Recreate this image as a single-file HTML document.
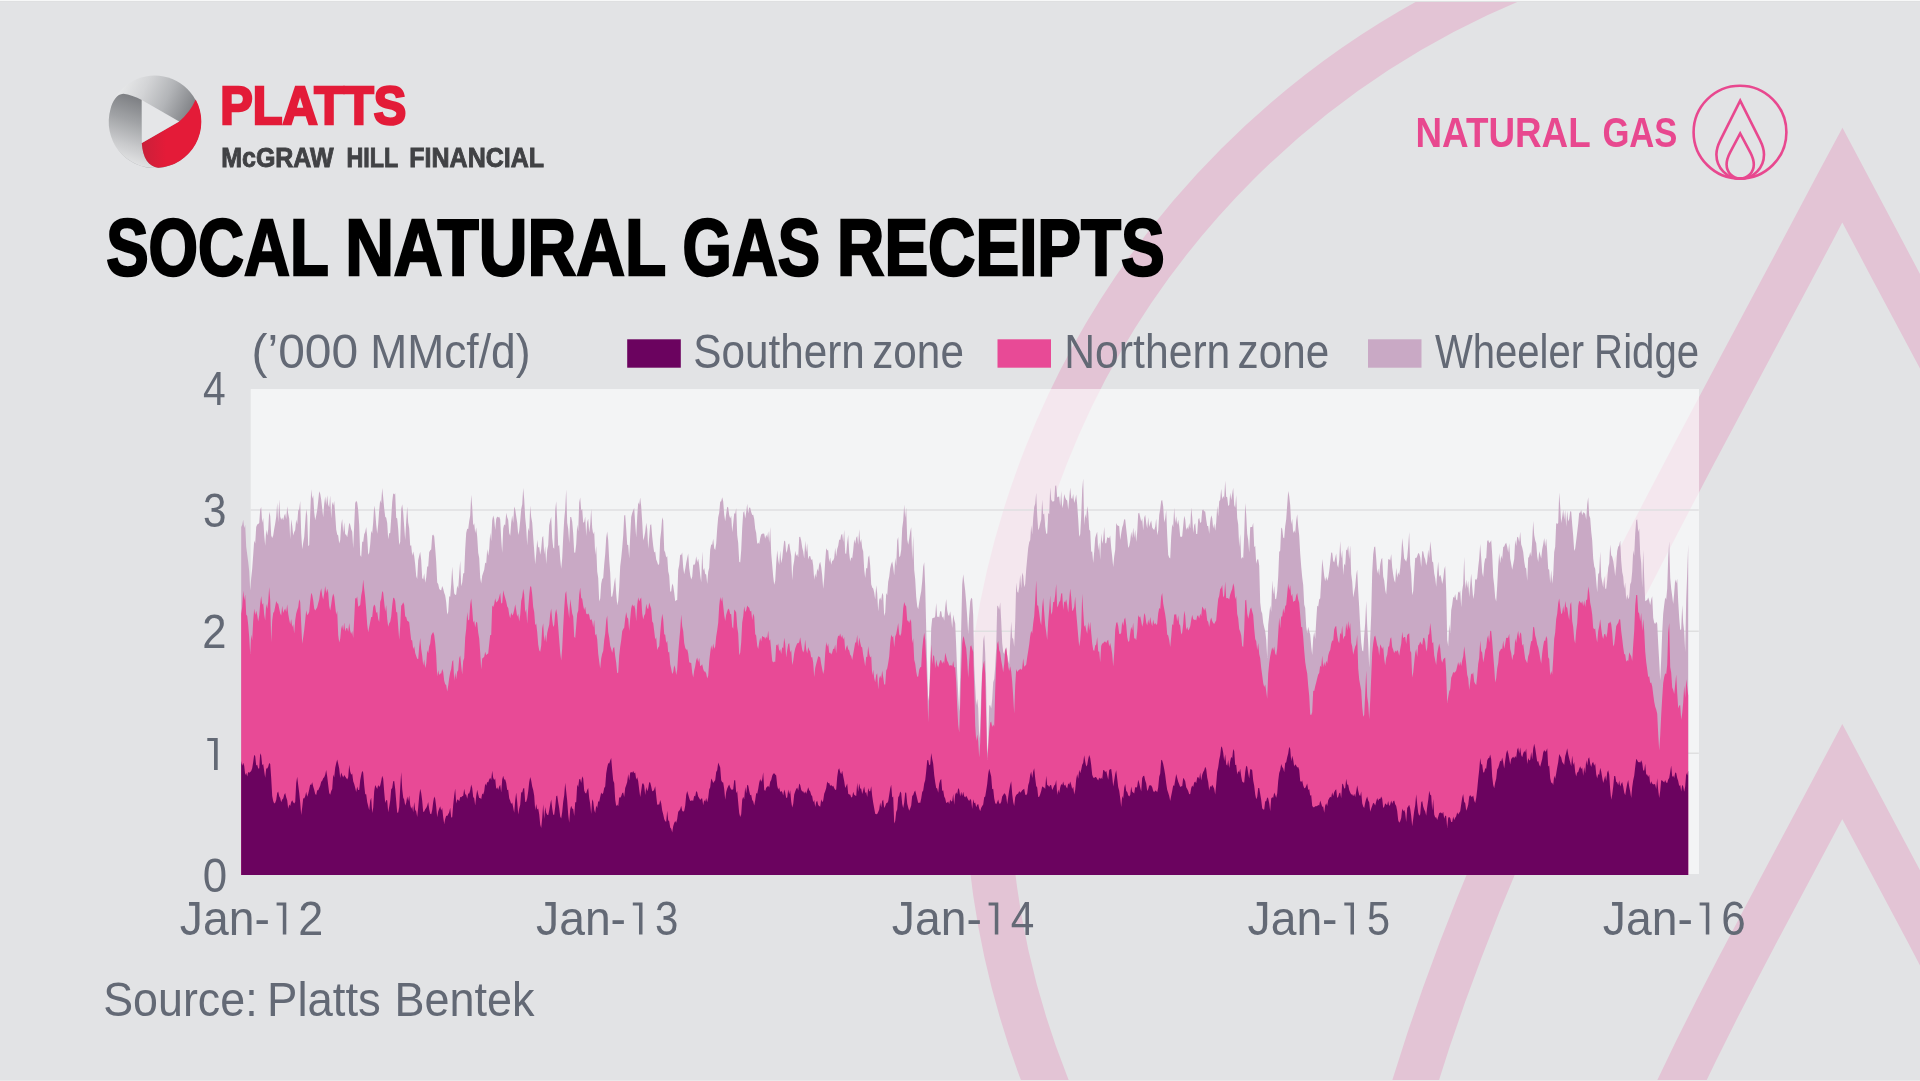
<!DOCTYPE html>
<html><head><meta charset="utf-8"><title>SoCal natural gas receipts</title>
<style>
html,body{margin:0;padding:0;background:#e2e3e5;}
body{width:1920px;height:1081px;overflow:hidden;font-family:"Liberation Sans",sans-serif;}
svg{display:block;position:absolute;left:0;top:0;will-change:transform;}
text{font-family:"Liberation Sans",sans-serif;}
.lt{fill:#646a75;stroke:#fff;stroke-width:1.1px;mix-blend-mode:darken;}
</style></head>
<body>
<svg width="1920" height="1081" viewBox="0 0 1920 1081">
<defs>
<linearGradient id="gTop" gradientUnits="userSpaceOnUse" x1="122" y1="84" x2="190" y2="116">
<stop offset="0" stop-color="#e7e8e9"/><stop offset="0.3" stop-color="#d3d4d6"/><stop offset="0.62" stop-color="#b3b5b8"/><stop offset="1" stop-color="#7f8185"/>
</linearGradient>
<linearGradient id="gLeft" gradientUnits="userSpaceOnUse" x1="141" y1="98" x2="119" y2="164">
<stop offset="0" stop-color="#7c7e82"/><stop offset="0.35" stop-color="#a0a2a5"/><stop offset="0.7" stop-color="#c9cacc"/><stop offset="1" stop-color="#e8e9ea"/>
</linearGradient>
<linearGradient id="gRed" gradientUnits="userSpaceOnUse" x1="141" y1="0" x2="166" y2="0">
<stop offset="0" stop-color="#c9203a"/><stop offset="1" stop-color="#e41b38"/>
</linearGradient>
</defs>
<rect x="0" y="0" width="1920" height="1081" fill="#e2e3e5"/>

<!-- big background flame -->
<g fill="none" stroke="#e3c4d5" stroke-width="44.5" stroke-linejoin="miter" stroke-miterlimit="10">
<circle cx="1842.5" cy="769.6" r="856"/>
<path d="M1401.0,1130.0 L1414.1,1085.0 L1428.5,1040.0 L1444.0,995.0 L1460.6,950.0 L1478.2,905.0 L1496.8,860.0 L1516.2,815.0 L1536.4,770.0 L1557.3,725.0 L1578.8,680.0 L1600.9,635.0 L1623.5,590.0 L1646.5,545.0 L1669.9,500.0 L1693.5,455.0 L1717.4,410.0 L1741.3,365.0 L1765.3,320.0 L1789.3,275.0 L1813.2,230.0 L1836.9,185.0 L1842.3,175.0 L1866.2,220.0 L1890.0,265.0 L1914.0,310.0 L1938.0,355.0 L1961.9,400.0"/>
<path d="M1658.8,1130.0 L1677.2,1090.0 L1696.5,1050.0 L1716.5,1010.0 L1737.1,970.0 L1758.1,930.0 L1779.3,890.0 L1800.6,850.0 L1821.9,810.0 L1842.3,771.5 L1863.2,811.0 L1884.5,851.0 L1905.8,891.0 L1927.1,931.0 L1948.0,971.0 L1968.6,1011.0"/>
</g>

<!-- plot box -->
<rect x="250.7" y="389" width="1448.3" height="485" fill="#ffffff" fill-opacity="0.6"/>
<g stroke="#dfdfe0" stroke-width="1.6">
<line x1="250.6" x2="1698.8" y1="510" y2="510"/>
<line x1="250.6" x2="1698.8" y1="631.2" y2="631.2"/>
<line x1="250.6" x2="1698.8" y1="753.3" y2="753.3"/>
</g>

<!-- data -->
<path fill="#c9a9c5" d="M241.2,875.0L241.2,527.0L242.2,524.7L243.2,519.7L244.2,528.0L245.2,525.1L246.2,546.7L247.2,554.5L248.2,561.9L249.2,571.0L250.2,590.6L251.2,578.1L252.2,568.8L253.2,555.0L254.2,540.6L255.2,543.6L256.2,526.9L257.2,524.4L258.2,524.0L259.2,523.0L260.2,509.8L261.2,507.0L262.2,522.8L263.2,517.9L264.2,535.0L265.2,545.7L266.2,529.5L267.2,535.4L268.2,529.6L269.2,511.7L270.2,515.9L271.2,535.5L272.2,537.9L273.2,535.4L274.2,529.0L275.2,523.6L276.2,516.8L277.2,502.8L278.2,522.3L279.2,499.5L280.2,516.4L281.2,519.8L282.2,517.6L283.2,520.3L284.2,515.8L285.2,513.5L286.2,519.3L287.2,506.3L288.2,513.7L289.2,518.5L290.2,539.2L291.2,519.2L292.2,525.7L293.2,535.5L294.2,532.0L295.2,529.9L296.2,519.4L297.2,524.3L298.2,510.5L299.2,509.3L300.2,500.9L301.2,533.2L302.2,549.2L303.2,542.8L304.2,537.0L305.2,523.0L306.2,508.9L307.2,515.5L308.2,546.3L309.2,544.9L310.2,514.0L311.2,489.2L312.2,498.7L313.2,495.2L314.2,512.2L315.2,520.2L316.2,515.5L317.2,510.1L318.2,500.9L319.2,491.2L320.2,493.8L321.2,499.8L322.2,508.5L323.2,517.2L324.2,504.0L325.2,496.5L326.2,505.1L327.2,495.3L328.2,504.7L329.2,507.2L330.2,495.5L331.2,518.6L332.2,501.8L333.2,505.6L334.2,501.0L335.2,514.5L336.2,529.4L337.2,534.5L338.2,535.5L339.2,543.4L340.2,539.9L341.2,524.4L342.2,518.9L343.2,533.0L344.2,522.2L345.2,534.3L346.2,534.8L347.2,537.3L348.2,530.8L349.2,522.8L350.2,524.8L351.2,529.2L352.2,531.7L353.2,548.2L354.2,525.1L355.2,503.0L356.2,500.7L357.2,502.5L358.2,510.2L359.2,525.0L360.2,555.0L361.2,557.0L362.2,541.4L363.2,541.9L364.2,534.2L365.2,532.1L366.2,527.0L367.2,536.4L368.2,554.8L369.2,552.7L370.2,544.3L371.2,530.7L372.2,533.5L373.2,522.0L374.2,505.5L375.2,511.5L376.2,524.6L377.2,533.8L378.2,524.0L379.2,509.9L380.2,500.1L381.2,503.3L382.2,488.1L383.2,497.4L384.2,508.4L385.2,516.7L386.2,517.7L387.2,523.0L388.2,539.3L389.2,533.3L390.2,533.1L391.2,518.0L392.2,501.9L393.2,493.3L394.2,494.5L395.2,493.2L396.2,517.8L397.2,518.4L398.2,529.3L399.2,545.1L400.2,541.7L401.2,509.2L402.2,504.3L403.2,512.6L404.2,526.4L405.2,539.9L406.2,521.2L407.2,506.4L408.2,522.5L409.2,528.6L410.2,545.8L411.2,545.2L412.2,555.7L413.2,551.5L414.2,556.1L415.2,564.5L416.2,575.9L417.2,578.9L418.2,560.2L419.2,555.7L420.2,551.8L421.2,560.2L422.2,578.1L423.2,579.5L424.2,573.3L425.2,582.8L426.2,577.5L427.2,566.4L428.2,566.4L429.2,552.3L430.2,550.3L431.2,549.6L432.2,535.4L433.2,534.4L434.2,536.6L435.2,548.4L436.2,561.8L437.2,582.6L438.2,583.9L439.2,588.7L440.2,589.9L441.2,590.2L442.2,586.0L443.2,588.8L444.2,592.8L445.2,595.4L446.2,602.3L447.2,614.5L448.2,612.0L449.2,596.2L450.2,596.7L451.2,584.2L452.2,566.4L453.2,581.4L454.2,593.3L455.2,595.0L456.2,594.5L457.2,585.6L458.2,588.4L459.2,574.2L460.2,560.8L461.2,586.3L462.2,582.4L463.2,573.5L464.2,573.0L465.2,549.1L466.2,532.9L467.2,528.8L468.2,529.1L469.2,521.3L470.2,515.6L471.2,494.7L472.2,506.8L473.2,525.6L474.2,523.3L475.2,533.1L476.2,527.6L477.2,536.8L478.2,552.8L479.2,557.9L480.2,577.7L481.2,583.4L482.2,575.8L483.2,572.7L484.2,569.7L485.2,562.4L486.2,563.4L487.2,549.1L488.2,555.8L489.2,549.1L490.2,532.8L491.2,541.3L492.2,520.5L493.2,515.4L494.2,519.0L495.2,530.1L496.2,518.9L497.2,516.6L498.2,517.6L499.2,516.7L500.2,519.5L501.2,538.9L502.2,552.7L503.2,528.6L504.2,524.3L505.2,525.5L506.2,512.7L507.2,517.2L508.2,520.1L509.2,533.1L510.2,535.7L511.2,522.6L512.2,515.6L513.2,522.9L514.2,506.6L515.2,509.6L516.2,516.3L517.2,522.8L518.2,534.9L519.2,531.0L520.2,520.7L521.2,509.0L522.2,504.6L523.2,487.9L524.2,499.2L525.2,517.8L526.2,527.4L527.2,545.4L528.2,527.7L529.2,531.6L530.2,505.6L531.2,517.1L532.2,522.6L533.2,537.2L534.2,550.5L535.2,564.2L536.2,554.1L537.2,539.8L538.2,547.6L539.2,547.0L540.2,554.8L541.2,549.1L542.2,537.6L543.2,536.1L544.2,554.3L545.2,546.3L546.2,564.1L547.2,549.9L548.2,545.1L549.2,525.2L550.2,520.5L551.2,516.8L552.2,537.9L553.2,547.6L554.2,548.8L555.2,510.3L556.2,501.2L557.2,520.5L558.2,546.2L559.2,544.8L560.2,559.0L561.2,568.8L562.2,558.6L563.2,537.3L564.2,519.8L565.2,509.1L566.2,489.3L567.2,522.7L568.2,529.0L569.2,542.9L570.2,516.9L571.2,516.9L572.2,521.7L573.2,533.4L574.2,552.5L575.2,552.7L576.2,544.2L577.2,524.6L578.2,531.6L579.2,502.6L580.2,497.5L581.2,510.5L582.2,508.7L583.2,522.7L584.2,522.1L585.2,516.6L586.2,536.0L587.2,522.0L588.2,518.8L589.2,532.4L590.2,524.5L591.2,508.7L592.2,527.7L593.2,534.3L594.2,531.6L595.2,555.0L596.2,546.1L597.2,571.4L598.2,578.1L599.2,601.4L600.2,598.6L601.2,583.8L602.2,579.1L603.2,577.9L604.2,564.6L605.2,554.1L606.2,537.8L607.2,531.6L608.2,540.2L609.2,560.1L610.2,572.8L611.2,596.7L612.2,596.6L613.2,590.9L614.2,583.0L615.2,577.3L616.2,593.5L617.2,605.1L618.2,601.0L619.2,587.6L620.2,566.2L621.2,558.3L622.2,547.9L623.2,535.5L624.2,515.6L625.2,515.0L626.2,528.7L627.2,544.8L628.2,545.0L629.2,558.5L630.2,535.9L631.2,517.1L632.2,513.0L633.2,510.2L634.2,508.0L635.2,524.0L636.2,537.4L637.2,517.3L638.2,502.2L639.2,504.7L640.2,497.5L641.2,506.5L642.2,521.4L643.2,540.5L644.2,537.3L645.2,532.0L646.2,522.7L647.2,529.0L648.2,548.8L649.2,537.3L650.2,525.1L651.2,524.2L652.2,536.5L653.2,545.7L654.2,552.4L655.2,551.6L656.2,559.4L657.2,561.9L658.2,565.2L659.2,563.4L660.2,539.3L661.2,530.7L662.2,517.3L663.2,520.4L664.2,550.3L665.2,552.6L666.2,557.4L667.2,556.1L668.2,571.3L669.2,575.6L670.2,591.8L671.2,591.2L672.2,583.4L673.2,585.7L674.2,592.6L675.2,601.3L676.2,600.3L677.2,600.0L678.2,570.0L679.2,565.1L680.2,554.8L681.2,555.0L682.2,552.6L683.2,567.2L684.2,574.2L685.2,569.1L686.2,563.1L687.2,558.0L688.2,553.5L689.2,568.1L690.2,574.9L691.2,579.5L692.2,576.7L693.2,564.5L694.2,564.9L695.2,563.2L696.2,556.2L697.2,562.2L698.2,558.8L699.2,564.9L700.2,575.1L701.2,582.2L702.2,551.2L703.2,570.5L704.2,567.9L705.2,574.0L706.2,574.6L707.2,583.9L708.2,572.0L709.2,567.8L710.2,549.8L711.2,544.4L712.2,544.7L713.2,538.7L714.2,548.3L715.2,550.0L716.2,543.6L717.2,528.5L718.2,517.2L719.2,512.8L720.2,501.7L721.2,501.3L722.2,497.2L723.2,501.5L724.2,514.6L725.2,521.3L726.2,513.7L727.2,506.7L728.2,507.6L729.2,515.0L730.2,518.4L731.2,515.8L732.2,532.2L733.2,523.4L734.2,513.2L735.2,513.8L736.2,508.1L737.2,535.1L738.2,543.1L739.2,561.8L740.2,562.4L741.2,550.3L742.2,528.1L743.2,512.7L744.2,511.0L745.2,518.6L746.2,512.2L747.2,503.7L748.2,513.5L749.2,507.6L750.2,507.8L751.2,511.9L752.2,515.0L753.2,514.7L754.2,519.0L755.2,528.7L756.2,532.9L757.2,543.9L758.2,542.6L759.2,544.1L760.2,538.2L761.2,534.4L762.2,533.8L763.2,533.6L764.2,533.7L765.2,538.7L766.2,534.8L767.2,537.4L768.2,531.5L769.2,542.7L770.2,526.9L771.2,553.3L772.2,564.9L773.2,576.4L774.2,584.8L775.2,580.8L776.2,563.2L777.2,550.3L778.2,559.5L779.2,565.1L780.2,550.5L781.2,563.2L782.2,558.4L783.2,549.1L784.2,540.5L785.2,541.4L786.2,553.1L787.2,550.2L788.2,544.4L789.2,543.3L790.2,549.9L791.2,555.9L792.2,580.2L793.2,566.2L794.2,560.4L795.2,550.8L796.2,556.0L797.2,553.9L798.2,557.2L799.2,537.0L800.2,536.8L801.2,540.8L802.2,547.4L803.2,551.6L804.2,558.4L805.2,540.8L806.2,552.2L807.2,543.2L808.2,559.5L809.2,556.2L810.2,556.1L811.2,560.1L812.2,559.0L813.2,565.5L814.2,579.8L815.2,573.6L816.2,577.4L817.2,568.4L818.2,571.6L819.2,564.2L820.2,561.7L821.2,566.9L822.2,575.6L823.2,588.8L824.2,578.1L825.2,561.2L826.2,548.2L827.2,550.2L828.2,550.2L829.2,561.9L830.2,557.4L831.2,564.8L832.2,560.8L833.2,560.4L834.2,558.1L835.2,547.7L836.2,556.6L837.2,548.9L838.2,545.7L839.2,539.5L840.2,540.1L841.2,534.8L842.2,533.9L843.2,542.0L844.2,529.7L845.2,553.5L846.2,553.7L847.2,542.4L848.2,534.7L849.2,553.0L850.2,561.4L851.2,557.3L852.2,558.5L853.2,550.4L854.2,539.3L855.2,543.7L856.2,537.8L857.2,536.1L858.2,544.7L859.2,529.3L860.2,542.7L861.2,539.0L862.2,548.0L863.2,551.5L864.2,569.6L865.2,577.9L866.2,568.1L867.2,568.4L868.2,557.5L869.2,555.2L870.2,566.1L871.2,584.3L872.2,587.5L873.2,588.5L874.2,592.4L875.2,599.6L876.2,585.3L877.2,593.5L878.2,611.5L879.2,599.7L880.2,597.5L881.2,600.4L882.2,592.8L883.2,595.2L884.2,616.1L885.2,612.5L886.2,593.0L887.2,595.3L888.2,581.7L889.2,576.7L890.2,568.2L891.2,564.1L892.2,561.6L893.2,567.0L894.2,575.4L895.2,557.7L896.2,565.8L897.2,540.6L898.2,537.0L899.2,557.3L900.2,555.9L901.2,549.7L902.2,528.2L903.2,520.7L904.2,504.4L905.2,517.7L906.2,507.6L907.2,539.2L908.2,544.7L909.2,539.1L910.2,531.7L911.2,527.2L912.2,560.0L913.2,535.8L914.2,569.9L915.2,579.3L916.2,596.8L917.2,606.3L918.2,609.2L919.2,602.5L920.2,596.4L921.2,591.2L922.2,581.2L923.2,566.8L924.2,562.3L925.2,585.9L926.2,629.1L927.2,667.0L928.2,701.1L929.2,693.9L930.2,665.7L931.2,628.3L932.2,618.6L933.2,617.8L934.2,618.1L935.2,616.3L936.2,603.1L937.2,617.1L938.2,616.6L939.2,617.6L940.2,611.2L941.2,611.2L942.2,617.7L943.2,616.3L944.2,620.7L945.2,607.2L946.2,598.9L947.2,610.5L948.2,615.3L949.2,615.8L950.2,611.2L951.2,618.2L952.2,628.0L953.2,614.5L954.2,619.7L955.2,623.4L956.2,646.4L957.2,673.3L958.2,694.8L959.2,711.6L960.2,676.0L961.2,627.8L962.2,584.5L963.2,574.2L964.2,582.6L965.2,590.8L966.2,602.6L967.2,616.7L968.2,634.0L969.2,615.3L970.2,601.7L971.2,597.7L972.2,599.1L973.2,615.5L974.2,665.6L975.2,685.8L976.2,705.2L977.2,698.7L978.2,708.3L979.2,738.7L980.2,728.9L981.2,692.8L982.2,668.0L983.2,640.9L984.2,634.9L985.2,653.3L986.2,688.1L987.2,753.7L988.2,742.5L989.2,705.4L990.2,705.3L991.2,708.4L992.2,699.1L993.2,682.3L994.2,678.9L995.2,666.4L996.2,647.7L997.2,605.4L998.2,606.6L999.2,609.7L1000.2,602.2L1001.2,620.8L1002.2,643.1L1003.2,652.0L1004.2,654.1L1005.2,649.3L1006.2,647.0L1007.2,654.9L1008.2,660.8L1009.2,664.1L1010.2,640.9L1011.2,621.5L1012.2,637.8L1013.2,638.9L1014.2,646.7L1015.2,621.7L1016.2,582.5L1017.2,591.5L1018.2,593.1L1019.2,587.1L1020.2,574.8L1021.2,588.5L1022.2,572.4L1023.2,575.8L1024.2,587.2L1025.2,583.9L1026.2,569.3L1027.2,558.4L1028.2,548.1L1029.2,542.3L1030.2,540.0L1031.2,525.3L1032.2,534.6L1033.2,518.3L1034.2,507.1L1035.2,503.7L1036.2,492.7L1037.2,515.5L1038.2,530.3L1039.2,528.1L1040.2,523.3L1041.2,519.6L1042.2,499.4L1043.2,514.5L1044.2,513.4L1045.2,526.3L1046.2,533.7L1047.2,533.4L1048.2,513.0L1049.2,514.3L1050.2,487.2L1051.2,499.6L1052.2,501.4L1053.2,501.4L1054.2,500.9L1055.2,485.8L1056.2,485.4L1057.2,497.4L1058.2,496.8L1059.2,496.6L1060.2,505.9L1061.2,491.0L1062.2,508.3L1063.2,504.1L1064.2,494.1L1065.2,497.4L1066.2,499.8L1067.2,500.6L1068.2,509.7L1069.2,499.0L1070.2,487.4L1071.2,498.1L1072.2,499.1L1073.2,494.1L1074.2,503.0L1075.2,499.4L1076.2,494.4L1077.2,504.9L1078.2,518.9L1079.2,536.7L1080.2,534.2L1081.2,516.6L1082.2,489.8L1083.2,478.4L1084.2,524.9L1085.2,513.9L1086.2,518.4L1087.2,506.0L1088.2,512.5L1089.2,529.6L1090.2,531.0L1091.2,551.7L1092.2,551.6L1093.2,563.1L1094.2,551.8L1095.2,538.1L1096.2,534.5L1097.2,531.7L1098.2,550.5L1099.2,542.4L1100.2,559.7L1101.2,533.2L1102.2,543.7L1103.2,539.5L1104.2,526.7L1105.2,543.3L1106.2,543.3L1107.2,537.3L1108.2,537.8L1109.2,538.2L1110.2,535.4L1111.2,547.9L1112.2,556.6L1113.2,567.1L1114.2,556.4L1115.2,549.7L1116.2,523.0L1117.2,525.2L1118.2,525.8L1119.2,526.3L1120.2,539.9L1121.2,533.5L1122.2,527.5L1123.2,524.6L1124.2,519.2L1125.2,519.4L1126.2,528.8L1127.2,537.8L1128.2,548.1L1129.2,546.1L1130.2,540.9L1131.2,531.7L1132.2,538.1L1133.2,527.5L1134.2,537.8L1135.2,529.7L1136.2,541.9L1137.2,532.3L1138.2,513.5L1139.2,512.7L1140.2,517.1L1141.2,521.6L1142.2,518.6L1143.2,530.5L1144.2,517.8L1145.2,514.7L1146.2,523.1L1147.2,528.5L1148.2,517.2L1149.2,527.0L1150.2,523.3L1151.2,520.6L1152.2,527.6L1153.2,528.9L1154.2,529.9L1155.2,526.7L1156.2,518.5L1157.2,535.3L1158.2,530.6L1159.2,515.1L1160.2,508.9L1161.2,500.7L1162.2,500.0L1163.2,506.4L1164.2,522.5L1165.2,518.3L1166.2,510.0L1167.2,535.3L1168.2,554.8L1169.2,557.4L1170.2,558.4L1171.2,536.4L1172.2,523.9L1173.2,527.2L1174.2,507.5L1175.2,523.0L1176.2,516.2L1177.2,524.7L1178.2,519.7L1179.2,526.1L1180.2,536.6L1181.2,537.0L1182.2,536.2L1183.2,525.7L1184.2,515.7L1185.2,519.5L1186.2,529.9L1187.2,527.1L1188.2,529.5L1189.2,522.9L1190.2,528.4L1191.2,507.5L1192.2,516.7L1193.2,532.9L1194.2,524.9L1195.2,523.1L1196.2,533.9L1197.2,534.1L1198.2,519.6L1199.2,517.7L1200.2,522.9L1201.2,522.1L1202.2,510.3L1203.2,509.4L1204.2,511.3L1205.2,511.5L1206.2,519.5L1207.2,526.1L1208.2,525.9L1209.2,533.7L1210.2,521.4L1211.2,515.3L1212.2,518.2L1213.2,528.6L1214.2,523.4L1215.2,530.8L1216.2,522.5L1217.2,505.9L1218.2,516.6L1219.2,501.4L1220.2,499.7L1221.2,488.8L1222.2,499.3L1223.2,495.9L1224.2,497.9L1225.2,480.8L1226.2,496.7L1227.2,497.2L1228.2,506.1L1229.2,504.9L1230.2,492.8L1231.2,499.9L1232.2,494.1L1233.2,487.8L1234.2,504.9L1235.2,507.7L1236.2,495.0L1237.2,517.9L1238.2,524.5L1239.2,546.9L1240.2,534.0L1241.2,559.1L1242.2,557.0L1243.2,558.3L1244.2,534.6L1245.2,503.1L1246.2,514.3L1247.2,533.8L1248.2,540.0L1249.2,552.6L1250.2,527.3L1251.2,527.0L1252.2,527.0L1253.2,522.7L1254.2,547.2L1255.2,545.7L1256.2,563.8L1257.2,559.4L1258.2,559.2L1259.2,565.5L1260.2,602.6L1261.2,611.0L1262.2,613.6L1263.2,622.7L1264.2,627.2L1265.2,631.3L1266.2,639.8L1267.2,658.0L1268.2,624.7L1269.2,615.2L1270.2,605.4L1271.2,612.0L1272.2,580.2L1273.2,594.4L1274.2,585.9L1275.2,599.3L1276.2,598.7L1277.2,591.1L1278.2,576.5L1279.2,552.1L1280.2,550.5L1281.2,527.5L1282.2,528.7L1283.2,537.4L1284.2,538.2L1285.2,526.2L1286.2,519.2L1287.2,504.9L1288.2,490.9L1289.2,495.9L1290.2,505.3L1291.2,524.3L1292.2,518.7L1293.2,533.3L1294.2,530.2L1295.2,533.0L1296.2,520.6L1297.2,514.3L1298.2,526.7L1299.2,535.5L1300.2,553.6L1301.2,566.5L1302.2,577.3L1303.2,584.9L1304.2,604.5L1305.2,607.9L1306.2,626.5L1307.2,633.2L1308.2,626.8L1309.2,631.2L1310.2,634.5L1311.2,646.2L1312.2,655.0L1313.2,637.9L1314.2,631.9L1315.2,638.9L1316.2,621.1L1317.2,605.8L1318.2,606.4L1319.2,599.5L1320.2,598.2L1321.2,580.4L1322.2,558.9L1323.2,566.7L1324.2,575.8L1325.2,581.2L1326.2,576.6L1327.2,580.7L1328.2,577.8L1329.2,571.2L1330.2,562.6L1331.2,552.5L1332.2,552.8L1333.2,561.1L1334.2,562.6L1335.2,557.9L1336.2,553.4L1337.2,564.8L1338.2,567.7L1339.2,559.9L1340.2,541.0L1341.2,558.6L1342.2,550.2L1343.2,574.9L1344.2,563.6L1345.2,565.4L1346.2,549.6L1347.2,550.4L1348.2,545.4L1349.2,559.3L1350.2,545.2L1351.2,573.9L1352.2,581.7L1353.2,597.6L1354.2,592.1L1355.2,586.6L1356.2,575.0L1357.2,569.6L1358.2,591.0L1359.2,607.3L1360.2,626.7L1361.2,642.5L1362.2,650.6L1363.2,651.5L1364.2,635.8L1365.2,623.3L1366.2,600.9L1367.2,625.6L1368.2,643.6L1369.2,667.8L1370.2,638.0L1371.2,614.9L1372.2,572.5L1373.2,554.3L1374.2,547.0L1375.2,546.5L1376.2,558.6L1377.2,573.5L1378.2,568.6L1379.2,575.7L1380.2,564.5L1381.2,559.4L1382.2,557.7L1383.2,576.5L1384.2,580.4L1385.2,589.9L1386.2,594.5L1387.2,579.6L1388.2,559.2L1389.2,559.3L1390.2,560.4L1391.2,554.0L1392.2,567.5L1393.2,574.7L1394.2,580.2L1395.2,582.7L1396.2,567.8L1397.2,577.7L1398.2,572.2L1399.2,575.3L1400.2,568.1L1401.2,556.1L1402.2,538.1L1403.2,547.2L1404.2,558.6L1405.2,560.0L1406.2,561.7L1407.2,557.4L1408.2,546.0L1409.2,532.1L1410.2,564.6L1411.2,573.8L1412.2,595.2L1413.2,591.0L1414.2,574.3L1415.2,557.7L1416.2,558.3L1417.2,556.3L1418.2,552.9L1419.2,553.7L1420.2,557.3L1421.2,567.0L1422.2,551.3L1423.2,551.6L1424.2,556.7L1425.2,559.6L1426.2,565.4L1427.2,561.3L1428.2,549.6L1429.2,558.0L1430.2,541.2L1431.2,549.6L1432.2,561.4L1433.2,562.5L1434.2,573.2L1435.2,578.3L1436.2,586.7L1437.2,572.2L1438.2,561.6L1439.2,577.1L1440.2,574.7L1441.2,577.9L1442.2,584.0L1443.2,578.9L1444.2,569.5L1445.2,566.1L1446.2,591.6L1447.2,640.1L1448.2,646.0L1449.2,624.3L1450.2,633.6L1451.2,610.2L1452.2,604.8L1453.2,596.7L1454.2,598.0L1455.2,594.0L1456.2,599.6L1457.2,600.6L1458.2,591.6L1459.2,593.1L1460.2,590.4L1461.2,607.2L1462.2,590.7L1463.2,584.1L1464.2,556.8L1465.2,589.3L1466.2,579.5L1467.2,588.1L1468.2,580.8L1469.2,597.1L1470.2,585.0L1471.2,573.5L1472.2,587.1L1473.2,599.1L1474.2,593.5L1475.2,579.0L1476.2,580.0L1477.2,577.9L1478.2,567.2L1479.2,558.5L1480.2,543.9L1481.2,557.8L1482.2,572.6L1483.2,576.9L1484.2,563.8L1485.2,558.3L1486.2,558.5L1487.2,541.1L1488.2,540.1L1489.2,542.9L1490.2,542.0L1491.2,540.2L1492.2,554.8L1493.2,577.1L1494.2,585.6L1495.2,597.7L1496.2,601.4L1497.2,585.9L1498.2,566.5L1499.2,552.9L1500.2,563.3L1501.2,555.4L1502.2,558.9L1503.2,547.0L1504.2,546.6L1505.2,544.0L1506.2,542.7L1507.2,546.8L1508.2,552.5L1509.2,543.2L1510.2,558.4L1511.2,564.1L1512.2,569.8L1513.2,564.2L1514.2,559.0L1515.2,540.1L1516.2,545.9L1517.2,536.8L1518.2,537.4L1519.2,541.9L1520.2,531.7L1521.2,544.5L1522.2,547.5L1523.2,552.0L1524.2,561.3L1525.2,567.4L1526.2,568.6L1527.2,580.8L1528.2,558.1L1529.2,556.5L1530.2,551.9L1531.2,556.5L1532.2,541.1L1533.2,520.9L1534.2,535.0L1535.2,540.6L1536.2,543.2L1537.2,556.3L1538.2,562.1L1539.2,551.3L1540.2,554.8L1541.2,558.5L1542.2,549.2L1543.2,544.2L1544.2,538.1L1545.2,546.5L1546.2,538.6L1547.2,551.4L1548.2,568.9L1549.2,569.8L1550.2,583.2L1551.2,569.9L1552.2,583.8L1553.2,575.0L1554.2,551.9L1555.2,546.7L1556.2,523.1L1557.2,524.0L1558.2,522.9L1559.2,492.6L1560.2,506.4L1561.2,522.9L1562.2,517.0L1563.2,509.6L1564.2,519.7L1565.2,510.0L1566.2,526.8L1567.2,510.7L1568.2,521.5L1569.2,519.1L1570.2,511.2L1571.2,511.6L1572.2,524.4L1573.2,536.0L1574.2,551.0L1575.2,548.5L1576.2,540.4L1577.2,532.2L1578.2,523.7L1579.2,512.8L1580.2,512.7L1581.2,509.9L1582.2,515.2L1583.2,512.2L1584.2,512.8L1585.2,514.1L1586.2,519.7L1587.2,504.2L1588.2,497.2L1589.2,515.6L1590.2,518.3L1591.2,531.5L1592.2,540.4L1593.2,558.6L1594.2,566.2L1595.2,569.1L1596.2,581.1L1597.2,592.3L1598.2,574.3L1599.2,572.6L1600.2,551.8L1601.2,576.4L1602.2,582.2L1603.2,587.8L1604.2,576.0L1605.2,588.8L1606.2,588.7L1607.2,579.8L1608.2,567.5L1609.2,563.2L1610.2,544.4L1611.2,555.3L1612.2,556.8L1613.2,561.1L1614.2,567.7L1615.2,576.3L1616.2,566.0L1617.2,551.0L1618.2,546.7L1619.2,545.6L1620.2,540.4L1621.2,561.0L1622.2,572.1L1623.2,576.6L1624.2,588.8L1625.2,582.6L1626.2,600.0L1627.2,594.3L1628.2,599.3L1629.2,596.9L1630.2,584.3L1631.2,582.1L1632.2,571.5L1633.2,550.2L1634.2,555.7L1635.2,533.5L1636.2,520.2L1637.2,519.2L1638.2,532.0L1639.2,528.5L1640.2,553.8L1641.2,563.1L1642.2,587.7L1643.2,549.8L1644.2,578.0L1645.2,601.2L1646.2,600.5L1647.2,600.1L1648.2,597.4L1649.2,600.6L1650.2,604.9L1651.2,599.4L1652.2,596.3L1653.2,617.8L1654.2,622.8L1655.2,624.1L1656.2,621.7L1657.2,623.8L1658.2,643.7L1659.2,661.2L1660.2,680.6L1661.2,659.1L1662.2,632.2L1663.2,613.7L1664.2,605.0L1665.2,597.4L1666.2,599.6L1667.2,588.4L1668.2,557.5L1669.2,541.3L1670.2,577.9L1671.2,588.7L1672.2,596.1L1673.2,604.0L1674.2,592.9L1675.2,579.2L1676.2,583.2L1677.2,578.7L1678.2,601.6L1679.2,618.1L1680.2,630.0L1681.2,629.3L1682.2,604.9L1683.2,623.0L1684.2,631.8L1685.2,652.1L1686.2,599.8L1687.2,573.2L1688.2,544.5L1688.2,875.0 Z"/>
<path fill="#e84a96" d="M241.2,875.0L241.2,613.8L242.2,606.7L243.2,590.8L244.2,600.2L245.2,594.5L246.2,614.5L247.2,616.0L248.2,624.8L249.2,637.2L250.2,654.0L251.2,634.6L252.2,640.2L253.2,620.8L254.2,608.6L255.2,615.1L256.2,610.7L257.2,615.0L258.2,621.5L259.2,615.5L260.2,603.4L261.2,596.1L262.2,604.7L263.2,602.9L264.2,614.5L265.2,620.6L266.2,603.9L267.2,608.7L268.2,601.8L269.2,587.0L270.2,600.0L271.2,642.2L272.2,620.5L273.2,613.0L274.2,611.6L275.2,606.6L276.2,601.1L277.2,603.2L278.2,603.7L279.2,608.6L280.2,613.3L281.2,615.5L282.2,605.8L283.2,613.1L284.2,610.2L285.2,608.4L286.2,612.1L287.2,604.2L288.2,613.8L289.2,619.6L290.2,624.2L291.2,619.1L292.2,627.0L293.2,624.3L294.2,633.4L295.2,620.2L296.2,613.4L297.2,609.9L298.2,607.2L299.2,599.2L300.2,602.1L301.2,623.5L302.2,643.7L303.2,637.2L304.2,630.0L305.2,620.4L306.2,610.3L307.2,615.2L308.2,613.9L309.2,611.8L310.2,601.4L311.2,592.7L312.2,595.0L313.2,600.2L314.2,608.4L315.2,610.4L316.2,609.1L317.2,607.3L318.2,603.2L319.2,599.5L320.2,592.5L321.2,588.2L322.2,595.4L323.2,599.6L324.2,593.6L325.2,586.1L326.2,593.3L327.2,588.8L328.2,592.5L329.2,606.1L330.2,610.6L331.2,604.5L332.2,597.4L333.2,593.5L334.2,596.6L335.2,605.9L336.2,614.8L337.2,611.0L338.2,634.9L339.2,642.5L340.2,638.8L341.2,628.8L342.2,625.1L343.2,630.3L344.2,622.4L345.2,631.4L346.2,628.2L347.2,628.0L348.2,631.7L349.2,623.0L350.2,630.7L351.2,634.1L352.2,631.0L353.2,638.1L354.2,619.1L355.2,598.1L356.2,598.7L357.2,596.6L358.2,606.7L359.2,605.9L360.2,604.9L361.2,595.4L362.2,590.5L363.2,579.4L364.2,589.1L365.2,597.7L366.2,610.0L367.2,624.4L368.2,632.3L369.2,627.0L370.2,622.1L371.2,617.1L372.2,616.9L373.2,607.2L374.2,604.6L375.2,606.1L376.2,613.1L377.2,611.7L378.2,619.0L379.2,622.0L380.2,601.7L381.2,599.0L382.2,591.0L383.2,592.8L384.2,602.5L385.2,611.5L386.2,605.1L387.2,619.1L388.2,626.7L389.2,623.3L390.2,621.8L391.2,616.6L392.2,605.3L393.2,597.7L394.2,598.1L395.2,601.1L396.2,612.0L397.2,612.4L398.2,626.4L399.2,639.7L400.2,625.9L401.2,605.7L402.2,604.6L403.2,602.2L404.2,604.7L405.2,616.4L406.2,617.1L407.2,620.7L408.2,621.3L409.2,622.3L410.2,631.6L411.2,639.9L412.2,640.5L413.2,649.0L414.2,646.3L415.2,653.1L416.2,655.9L417.2,658.7L418.2,658.9L419.2,646.8L420.2,638.0L421.2,649.1L422.2,655.7L423.2,665.4L424.2,659.6L425.2,668.0L426.2,664.1L427.2,650.2L428.2,653.2L429.2,646.6L430.2,643.5L431.2,635.4L432.2,633.4L433.2,632.1L434.2,635.1L435.2,643.3L436.2,655.1L437.2,676.6L438.2,670.2L439.2,674.9L440.2,673.6L441.2,673.4L442.2,669.1L443.2,671.9L444.2,680.7L445.2,684.2L446.2,685.0L447.2,691.6L448.2,685.8L449.2,677.9L450.2,672.5L451.2,669.0L452.2,661.4L453.2,659.9L454.2,680.7L455.2,672.6L456.2,679.0L457.2,671.7L458.2,670.3L459.2,658.3L460.2,655.6L461.2,665.7L462.2,674.5L463.2,661.0L464.2,658.0L465.2,637.5L466.2,628.8L467.2,612.1L468.2,620.6L469.2,619.5L470.2,604.5L471.2,598.5L472.2,608.8L473.2,622.7L474.2,620.5L475.2,627.6L476.2,621.7L477.2,622.7L478.2,632.5L479.2,638.5L480.2,652.4L481.2,669.6L482.2,658.6L483.2,657.7L484.2,656.7L485.2,651.7L486.2,655.2L487.2,654.0L488.2,653.4L489.2,644.0L490.2,635.1L491.2,635.0L492.2,605.6L493.2,607.0L494.2,604.3L495.2,598.2L496.2,602.5L497.2,601.4L498.2,600.2L499.2,597.1L500.2,592.8L501.2,603.6L502.2,603.0L503.2,590.3L504.2,594.4L505.2,597.9L506.2,601.4L507.2,606.6L508.2,608.1L509.2,614.6L510.2,618.3L511.2,612.5L512.2,615.5L513.2,613.9L514.2,610.0L515.2,604.2L516.2,610.0L517.2,616.7L518.2,613.7L519.2,621.6L520.2,615.0L521.2,600.9L522.2,597.0L523.2,588.8L524.2,594.6L525.2,612.7L526.2,609.0L527.2,623.8L528.2,608.6L529.2,595.8L530.2,586.3L531.2,586.8L532.2,594.6L533.2,607.0L534.2,612.0L535.2,625.3L536.2,623.6L537.2,632.1L538.2,644.4L539.2,650.3L540.2,651.7L541.2,645.5L542.2,628.3L543.2,623.3L544.2,641.6L545.2,634.5L546.2,642.5L547.2,632.9L548.2,628.5L549.2,624.8L550.2,614.3L551.2,608.5L552.2,619.8L553.2,626.9L554.2,624.9L555.2,613.3L556.2,609.1L557.2,614.5L558.2,626.7L559.2,639.9L560.2,652.5L561.2,660.6L562.2,648.2L563.2,627.1L564.2,608.7L565.2,594.1L566.2,591.1L567.2,603.1L568.2,609.4L569.2,618.3L570.2,599.0L571.2,605.9L572.2,613.4L573.2,616.5L574.2,636.7L575.2,637.9L576.2,626.1L577.2,613.7L578.2,610.7L579.2,594.7L580.2,587.6L581.2,597.9L582.2,598.8L583.2,605.6L584.2,610.0L585.2,606.7L586.2,613.5L587.2,614.6L588.2,613.6L589.2,615.0L590.2,620.2L591.2,619.1L592.2,621.2L593.2,627.2L594.2,619.8L595.2,635.4L596.2,633.7L597.2,639.2L598.2,653.5L599.2,661.5L600.2,668.4L601.2,658.4L602.2,653.7L603.2,651.0L604.2,640.0L605.2,633.6L606.2,620.3L607.2,615.6L608.2,632.1L609.2,637.6L610.2,645.8L611.2,648.9L612.2,652.8L613.2,648.0L614.2,647.0L615.2,655.9L616.2,662.7L617.2,673.2L618.2,672.6L619.2,655.6L620.2,646.8L621.2,640.2L622.2,631.2L623.2,628.9L624.2,627.8L625.2,618.4L626.2,611.9L627.2,617.4L628.2,618.8L629.2,631.1L630.2,618.6L631.2,608.5L632.2,604.2L633.2,606.6L634.2,605.1L635.2,609.0L636.2,621.3L637.2,604.8L638.2,597.2L639.2,601.5L640.2,599.0L641.2,597.6L642.2,613.3L643.2,619.4L644.2,615.5L645.2,613.8L646.2,603.8L647.2,608.2L648.2,609.1L649.2,602.6L650.2,605.8L651.2,608.7L652.2,621.5L653.2,622.9L654.2,630.9L655.2,639.4L656.2,637.2L657.2,649.9L658.2,647.6L659.2,646.3L660.2,632.9L661.2,621.7L662.2,613.7L663.2,619.2L664.2,634.3L665.2,634.8L666.2,643.0L667.2,640.7L668.2,652.5L669.2,651.7L670.2,664.3L671.2,668.8L672.2,674.0L673.2,672.1L674.2,665.2L675.2,668.1L676.2,675.0L677.2,669.7L678.2,653.0L679.2,641.1L680.2,630.0L681.2,614.6L682.2,626.3L683.2,631.1L684.2,643.1L685.2,647.7L686.2,649.7L687.2,649.3L688.2,653.5L689.2,662.3L690.2,662.7L691.2,662.9L692.2,672.4L693.2,677.4L694.2,670.4L695.2,666.3L696.2,660.2L697.2,657.4L698.2,662.0L699.2,657.9L700.2,666.3L701.2,665.6L702.2,664.2L703.2,669.0L704.2,671.5L705.2,671.5L706.2,673.4L707.2,678.4L708.2,675.7L709.2,661.6L710.2,652.8L711.2,645.3L712.2,650.0L713.2,643.4L714.2,648.8L715.2,646.4L716.2,636.5L717.2,630.3L718.2,622.8L719.2,606.1L720.2,597.0L721.2,601.5L722.2,597.1L723.2,605.8L724.2,615.1L725.2,620.9L726.2,614.8L727.2,611.5L728.2,608.6L729.2,609.8L730.2,614.1L731.2,614.2L732.2,626.7L733.2,628.7L734.2,609.6L735.2,610.7L736.2,612.4L737.2,626.7L738.2,633.6L739.2,655.1L740.2,652.8L741.2,642.3L742.2,622.6L743.2,616.6L744.2,606.3L745.2,612.0L746.2,610.2L747.2,605.4L748.2,606.9L749.2,607.7L750.2,611.4L751.2,610.8L752.2,620.1L753.2,613.4L754.2,616.5L755.2,633.9L756.2,635.7L757.2,645.8L758.2,648.9L759.2,642.3L760.2,637.7L761.2,641.4L762.2,635.7L763.2,637.1L764.2,636.7L765.2,639.1L766.2,636.6L767.2,638.6L768.2,630.6L769.2,640.7L770.2,639.2L771.2,649.9L772.2,660.7L773.2,662.5L774.2,661.4L775.2,661.9L776.2,644.6L777.2,645.7L778.2,643.6L779.2,651.2L780.2,649.1L781.2,653.9L782.2,646.9L783.2,648.5L784.2,637.7L785.2,643.7L786.2,657.4L787.2,650.1L788.2,644.3L789.2,643.0L790.2,652.6L791.2,649.9L792.2,665.0L793.2,660.8L794.2,653.2L795.2,648.6L796.2,645.7L797.2,643.3L798.2,643.2L799.2,642.3L800.2,637.2L801.2,643.5L802.2,649.4L803.2,652.4L804.2,649.9L805.2,639.6L806.2,649.2L807.2,653.4L808.2,647.1L809.2,650.1L810.2,651.6L811.2,657.6L812.2,657.1L813.2,662.8L814.2,677.0L815.2,668.0L816.2,664.0L817.2,660.2L818.2,656.2L819.2,656.8L820.2,657.5L821.2,663.9L822.2,669.1L823.2,673.9L824.2,669.5L825.2,652.9L826.2,642.1L827.2,646.7L828.2,643.4L829.2,652.9L830.2,652.4L831.2,654.5L832.2,652.6L833.2,648.7L834.2,648.9L835.2,644.5L836.2,653.5L837.2,639.8L838.2,635.4L839.2,636.4L840.2,633.6L841.2,637.8L842.2,634.9L843.2,639.6L844.2,637.1L845.2,650.9L846.2,647.4L847.2,645.0L848.2,649.3L849.2,650.4L850.2,654.7L851.2,655.9L852.2,659.9L853.2,653.9L854.2,648.5L855.2,642.6L856.2,642.6L857.2,634.8L858.2,646.7L859.2,637.6L860.2,642.6L861.2,646.8L862.2,647.4L863.2,654.9L864.2,660.3L865.2,666.2L866.2,656.7L867.2,656.9L868.2,646.1L869.2,653.7L870.2,657.5L871.2,656.2L872.2,675.2L873.2,669.8L874.2,678.0L875.2,682.2L876.2,675.0L877.2,673.3L878.2,689.4L879.2,678.6L880.2,675.4L881.2,678.4L882.2,670.5L883.2,677.0L884.2,684.5L885.2,684.4L886.2,670.4L887.2,668.6L888.2,662.9L889.2,656.6L890.2,642.9L891.2,634.5L892.2,637.3L893.2,636.0L894.2,647.3L895.2,636.4L896.2,634.1L897.2,628.8L898.2,623.0L899.2,634.2L900.2,636.0L901.2,633.4L902.2,623.4L903.2,608.2L904.2,602.1L905.2,605.0L906.2,606.6L907.2,620.6L908.2,620.8L909.2,623.0L910.2,619.2L911.2,621.8L912.2,643.3L913.2,638.2L914.2,659.7L915.2,663.8L916.2,671.4L917.2,676.7L918.2,676.5L919.2,669.7L920.2,667.3L921.2,667.0L922.2,649.3L923.2,639.4L924.2,632.7L925.2,639.7L926.2,660.8L927.2,686.0L928.2,722.3L929.2,697.4L930.2,672.7L931.2,644.2L932.2,664.2L933.2,655.0L934.2,656.6L935.2,668.5L936.2,659.5L937.2,664.9L938.2,667.6L939.2,663.8L940.2,660.3L941.2,660.2L942.2,663.8L943.2,661.0L944.2,663.6L945.2,652.8L946.2,656.4L947.2,660.8L948.2,662.5L949.2,665.4L950.2,665.4L951.2,665.1L952.2,666.5L953.2,661.1L954.2,667.6L955.2,666.9L956.2,682.0L957.2,707.1L958.2,724.8L959.2,732.6L960.2,703.0L961.2,669.9L962.2,643.4L963.2,636.0L964.2,638.6L965.2,644.1L966.2,648.3L967.2,660.4L968.2,677.8L969.2,661.4L970.2,646.5L971.2,645.2L972.2,648.7L973.2,652.1L974.2,686.5L975.2,725.5L976.2,741.0L977.2,734.6L978.2,741.1L979.2,757.4L980.2,742.6L981.2,706.1L982.2,673.8L983.2,664.6L984.2,660.6L985.2,673.3L986.2,719.8L987.2,760.0L988.2,747.5L989.2,731.6L990.2,722.8L991.2,721.6L992.2,726.9L993.2,724.4L994.2,726.6L995.2,690.5L996.2,663.5L997.2,644.1L998.2,640.9L999.2,650.2L1000.2,652.5L1001.2,660.3L1002.2,665.7L1003.2,672.3L1004.2,664.0L1005.2,650.4L1006.2,648.0L1007.2,656.1L1008.2,666.1L1009.2,671.1L1010.2,666.3L1011.2,671.4L1012.2,681.8L1013.2,696.7L1014.2,713.4L1015.2,685.8L1016.2,668.9L1017.2,671.9L1018.2,670.5L1019.2,670.0L1020.2,668.4L1021.2,670.0L1022.2,668.5L1023.2,658.2L1024.2,666.7L1025.2,665.8L1026.2,664.4L1027.2,657.2L1028.2,651.0L1029.2,644.6L1030.2,636.1L1031.2,630.8L1032.2,633.6L1033.2,623.2L1034.2,616.0L1035.2,599.9L1036.2,580.2L1037.2,605.2L1038.2,605.7L1039.2,612.9L1040.2,620.8L1041.2,625.3L1042.2,606.4L1043.2,597.7L1044.2,612.2L1045.2,625.3L1046.2,632.0L1047.2,640.1L1048.2,621.4L1049.2,609.6L1050.2,595.3L1051.2,614.7L1052.2,612.0L1053.2,601.9L1054.2,601.9L1055.2,595.0L1056.2,583.9L1057.2,607.4L1058.2,605.5L1059.2,602.0L1060.2,600.8L1061.2,593.6L1062.2,593.2L1063.2,609.9L1064.2,601.3L1065.2,602.6L1066.2,599.2L1067.2,605.0L1068.2,612.4L1069.2,600.0L1070.2,588.5L1071.2,596.9L1072.2,611.3L1073.2,609.7L1074.2,607.1L1075.2,596.4L1076.2,612.4L1077.2,624.0L1078.2,636.1L1079.2,646.6L1080.2,640.2L1081.2,628.0L1082.2,593.7L1083.2,610.7L1084.2,626.7L1085.2,624.9L1086.2,630.1L1087.2,633.7L1088.2,621.7L1089.2,630.5L1090.2,621.8L1091.2,632.4L1092.2,643.4L1093.2,649.9L1094.2,650.9L1095.2,645.5L1096.2,644.4L1097.2,637.1L1098.2,651.6L1099.2,651.6L1100.2,662.3L1101.2,645.9L1102.2,643.4L1103.2,643.3L1104.2,641.7L1105.2,641.5L1106.2,642.9L1107.2,640.8L1108.2,639.8L1109.2,646.5L1110.2,643.1L1111.2,647.7L1112.2,654.0L1113.2,666.5L1114.2,652.9L1115.2,629.7L1116.2,623.0L1117.2,622.0L1118.2,625.9L1119.2,633.7L1120.2,634.2L1121.2,632.7L1122.2,621.4L1123.2,625.8L1124.2,619.5L1125.2,617.5L1126.2,624.7L1127.2,637.0L1128.2,641.8L1129.2,641.2L1130.2,633.3L1131.2,626.7L1132.2,630.2L1133.2,622.6L1134.2,638.4L1135.2,638.2L1136.2,640.3L1137.2,631.3L1138.2,615.0L1139.2,617.6L1140.2,616.2L1141.2,621.1L1142.2,626.7L1143.2,622.8L1144.2,613.1L1145.2,615.2L1146.2,622.4L1147.2,625.4L1148.2,619.6L1149.2,624.1L1150.2,616.9L1151.2,622.2L1152.2,626.2L1153.2,619.4L1154.2,624.6L1155.2,622.7L1156.2,624.9L1157.2,623.8L1158.2,613.6L1159.2,608.0L1160.2,608.9L1161.2,596.5L1162.2,593.1L1163.2,603.6L1164.2,609.1L1165.2,614.6L1166.2,621.7L1167.2,634.4L1168.2,635.4L1169.2,640.1L1170.2,647.0L1171.2,636.7L1172.2,624.0L1173.2,625.2L1174.2,614.4L1175.2,614.6L1176.2,614.3L1177.2,621.4L1178.2,615.2L1179.2,624.0L1180.2,625.6L1181.2,634.6L1182.2,632.6L1183.2,624.1L1184.2,610.8L1185.2,615.6L1186.2,629.9L1187.2,626.7L1188.2,630.6L1189.2,629.1L1190.2,626.3L1191.2,619.9L1192.2,614.8L1193.2,619.0L1194.2,620.0L1195.2,619.5L1196.2,620.5L1197.2,615.7L1198.2,615.4L1199.2,618.4L1200.2,613.6L1201.2,616.2L1202.2,606.4L1203.2,608.1L1204.2,610.4L1205.2,607.7L1206.2,611.8L1207.2,620.6L1208.2,621.7L1209.2,627.1L1210.2,620.7L1211.2,617.5L1212.2,621.1L1213.2,622.9L1214.2,623.9L1215.2,621.9L1216.2,620.3L1217.2,608.9L1218.2,598.9L1219.2,596.1L1220.2,588.9L1221.2,587.9L1222.2,585.1L1223.2,597.4L1224.2,595.4L1225.2,581.5L1226.2,598.3L1227.2,597.9L1228.2,598.3L1229.2,599.4L1230.2,594.5L1231.2,591.5L1232.2,589.0L1233.2,583.2L1234.2,586.8L1235.2,599.3L1236.2,596.0L1237.2,614.1L1238.2,618.3L1239.2,629.1L1240.2,631.4L1241.2,635.6L1242.2,646.0L1243.2,646.9L1244.2,628.9L1245.2,600.6L1246.2,599.8L1247.2,613.2L1248.2,618.7L1249.2,614.2L1250.2,609.0L1251.2,607.4L1252.2,611.5L1253.2,615.0L1254.2,628.8L1255.2,638.9L1256.2,641.2L1257.2,650.1L1258.2,643.0L1259.2,654.0L1260.2,658.2L1261.2,667.9L1262.2,675.3L1263.2,683.1L1264.2,686.9L1265.2,684.5L1266.2,691.3L1267.2,698.8L1268.2,673.5L1269.2,663.2L1270.2,656.3L1271.2,651.4L1272.2,647.3L1273.2,650.4L1274.2,646.5L1275.2,653.5L1276.2,655.5L1277.2,648.6L1278.2,633.2L1279.2,617.4L1280.2,628.6L1281.2,616.6L1282.2,616.6L1283.2,608.3L1284.2,613.2L1285.2,606.1L1286.2,605.1L1287.2,594.0L1288.2,583.4L1289.2,590.0L1290.2,585.3L1291.2,596.2L1292.2,593.8L1293.2,602.1L1294.2,601.0L1295.2,600.7L1296.2,595.6L1297.2,593.1L1298.2,599.5L1299.2,602.7L1300.2,615.2L1301.2,626.9L1302.2,627.2L1303.2,636.9L1304.2,650.6L1305.2,662.0L1306.2,668.4L1307.2,673.5L1308.2,685.7L1309.2,695.8L1310.2,714.4L1311.2,715.0L1312.2,712.3L1313.2,690.8L1314.2,690.9L1315.2,686.2L1316.2,682.5L1317.2,678.2L1318.2,674.4L1319.2,672.9L1320.2,665.4L1321.2,667.3L1322.2,655.5L1323.2,667.2L1324.2,661.9L1325.2,666.3L1326.2,660.7L1327.2,663.6L1328.2,655.4L1329.2,651.9L1330.2,650.0L1331.2,643.8L1332.2,640.6L1333.2,640.7L1334.2,629.6L1335.2,626.8L1336.2,625.9L1337.2,635.6L1338.2,640.9L1339.2,643.2L1340.2,632.7L1341.2,634.7L1342.2,625.6L1343.2,639.6L1344.2,636.6L1345.2,636.1L1346.2,623.0L1347.2,630.2L1348.2,620.9L1349.2,628.9L1350.2,623.1L1351.2,642.5L1352.2,646.6L1353.2,654.7L1354.2,650.3L1355.2,646.4L1356.2,644.4L1357.2,634.8L1358.2,668.4L1359.2,679.6L1360.2,685.1L1361.2,690.2L1362.2,706.8L1363.2,716.7L1364.2,714.7L1365.2,693.8L1366.2,670.6L1367.2,696.6L1368.2,703.4L1369.2,719.2L1370.2,700.8L1371.2,677.2L1372.2,652.9L1373.2,643.6L1374.2,637.0L1375.2,635.4L1376.2,639.9L1377.2,645.3L1378.2,647.4L1379.2,655.8L1380.2,644.3L1381.2,646.3L1382.2,649.0L1383.2,646.4L1384.2,658.7L1385.2,665.2L1386.2,657.7L1387.2,654.8L1388.2,646.9L1389.2,646.1L1390.2,638.7L1391.2,637.2L1392.2,646.9L1393.2,649.8L1394.2,653.2L1395.2,650.4L1396.2,652.0L1397.2,649.9L1398.2,651.5L1399.2,655.8L1400.2,649.1L1401.2,643.7L1402.2,631.7L1403.2,638.3L1404.2,636.9L1405.2,637.1L1406.2,644.0L1407.2,635.0L1408.2,634.0L1409.2,633.2L1410.2,650.8L1411.2,652.7L1412.2,677.4L1413.2,672.4L1414.2,662.4L1415.2,652.9L1416.2,648.9L1417.2,657.1L1418.2,645.6L1419.2,644.6L1420.2,641.4L1421.2,643.4L1422.2,645.1L1423.2,638.0L1424.2,637.7L1425.2,642.1L1426.2,651.6L1427.2,647.9L1428.2,635.0L1429.2,634.1L1430.2,623.0L1431.2,630.9L1432.2,643.3L1433.2,642.1L1434.2,655.2L1435.2,660.3L1436.2,665.1L1437.2,653.5L1438.2,648.3L1439.2,643.5L1440.2,648.3L1441.2,659.3L1442.2,662.7L1443.2,659.5L1444.2,658.2L1445.2,657.6L1446.2,672.9L1447.2,702.9L1448.2,697.0L1449.2,691.3L1450.2,689.4L1451.2,677.8L1452.2,675.2L1453.2,671.9L1454.2,672.7L1455.2,672.1L1456.2,670.6L1457.2,666.3L1458.2,662.1L1459.2,665.9L1460.2,661.6L1461.2,665.9L1462.2,660.4L1463.2,656.6L1464.2,646.2L1465.2,654.5L1466.2,663.4L1467.2,674.8L1468.2,678.2L1469.2,690.0L1470.2,681.7L1471.2,673.4L1472.2,674.6L1473.2,672.3L1474.2,681.7L1475.2,683.7L1476.2,684.9L1477.2,675.9L1478.2,663.8L1479.2,658.1L1480.2,640.5L1481.2,651.1L1482.2,652.4L1483.2,662.4L1484.2,657.3L1485.2,650.0L1486.2,647.7L1487.2,638.6L1488.2,635.3L1489.2,642.5L1490.2,630.7L1491.2,631.1L1492.2,641.5L1493.2,654.9L1494.2,667.5L1495.2,682.5L1496.2,678.3L1497.2,668.2L1498.2,662.9L1499.2,651.9L1500.2,650.6L1501.2,648.5L1502.2,649.3L1503.2,640.4L1504.2,648.7L1505.2,644.0L1506.2,637.8L1507.2,638.0L1508.2,637.6L1509.2,633.8L1510.2,649.0L1511.2,653.0L1512.2,660.3L1513.2,655.2L1514.2,654.1L1515.2,638.6L1516.2,642.9L1517.2,635.4L1518.2,630.8L1519.2,638.8L1520.2,632.2L1521.2,633.9L1522.2,645.7L1523.2,643.8L1524.2,651.5L1525.2,659.0L1526.2,661.0L1527.2,663.2L1528.2,656.2L1529.2,653.4L1530.2,646.2L1531.2,641.3L1532.2,640.7L1533.2,626.8L1534.2,627.4L1535.2,635.5L1536.2,638.9L1537.2,644.6L1538.2,647.2L1539.2,652.1L1540.2,658.2L1541.2,663.7L1542.2,653.1L1543.2,645.8L1544.2,640.4L1545.2,641.0L1546.2,636.1L1547.2,638.8L1548.2,657.2L1549.2,659.1L1550.2,675.5L1551.2,670.9L1552.2,674.4L1553.2,658.8L1554.2,638.8L1555.2,632.4L1556.2,619.0L1557.2,613.8L1558.2,603.3L1559.2,598.5L1560.2,606.4L1561.2,614.2L1562.2,612.8L1563.2,606.1L1564.2,612.8L1565.2,601.0L1566.2,607.0L1567.2,607.8L1568.2,614.4L1569.2,620.0L1570.2,604.6L1571.2,601.9L1572.2,621.1L1573.2,627.0L1574.2,639.2L1575.2,643.4L1576.2,630.5L1577.2,623.1L1578.2,606.1L1579.2,600.7L1580.2,602.0L1581.2,603.4L1582.2,601.1L1583.2,606.2L1584.2,600.5L1585.2,607.1L1586.2,600.1L1587.2,599.5L1588.2,586.5L1589.2,592.3L1590.2,602.8L1591.2,607.8L1592.2,614.4L1593.2,627.7L1594.2,629.3L1595.2,628.5L1596.2,637.1L1597.2,642.4L1598.2,630.9L1599.2,626.3L1600.2,619.3L1601.2,628.2L1602.2,635.4L1603.2,639.0L1604.2,634.2L1605.2,633.8L1606.2,637.6L1607.2,633.1L1608.2,623.3L1609.2,623.2L1610.2,621.5L1611.2,623.9L1612.2,632.6L1613.2,646.4L1614.2,644.3L1615.2,636.0L1616.2,626.2L1617.2,624.3L1618.2,623.1L1619.2,619.3L1620.2,619.4L1621.2,630.9L1622.2,638.7L1623.2,647.3L1624.2,653.9L1625.2,654.4L1626.2,661.8L1627.2,660.0L1628.2,661.2L1629.2,652.2L1630.2,654.4L1631.2,656.2L1632.2,661.1L1633.2,644.7L1634.2,630.7L1635.2,605.8L1636.2,594.9L1637.2,595.1L1638.2,612.0L1639.2,613.6L1640.2,621.4L1641.2,612.7L1642.2,631.0L1643.2,619.0L1644.2,630.5L1645.2,651.2L1646.2,661.9L1647.2,669.2L1648.2,677.0L1649.2,676.3L1650.2,683.1L1651.2,682.4L1652.2,686.3L1653.2,694.3L1654.2,701.7L1655.2,706.7L1656.2,709.5L1657.2,713.7L1658.2,734.1L1659.2,750.5L1660.2,735.4L1661.2,715.0L1662.2,697.9L1663.2,683.0L1664.2,676.9L1665.2,673.3L1666.2,674.3L1667.2,664.8L1668.2,632.6L1669.2,623.0L1670.2,666.9L1671.2,672.8L1672.2,687.4L1673.2,690.0L1674.2,694.1L1675.2,684.2L1676.2,674.6L1677.2,693.0L1678.2,708.6L1679.2,705.5L1680.2,705.2L1681.2,719.8L1682.2,713.3L1683.2,702.5L1684.2,685.5L1685.2,698.0L1686.2,679.2L1687.2,687.1L1688.2,695.6L1688.2,875.0 Z"/>
<path fill="#6b035f" d="M241.2,875.0L241.2,761.1L242.2,765.7L243.2,762.7L244.2,765.7L245.2,775.1L246.2,772.7L247.2,776.5L248.2,771.9L249.2,772.7L250.2,772.0L251.2,770.9L252.2,768.3L253.2,762.1L254.2,754.7L255.2,756.2L256.2,765.6L257.2,764.8L258.2,768.6L259.2,768.4L260.2,753.3L261.2,755.5L262.2,765.2L263.2,764.0L264.2,771.2L265.2,777.8L266.2,768.5L267.2,768.4L268.2,766.7L269.2,763.1L270.2,763.9L271.2,778.1L272.2,796.0L273.2,800.9L274.2,803.4L275.2,802.8L276.2,799.9L277.2,793.1L278.2,791.5L279.2,796.2L280.2,797.9L281.2,802.3L282.2,799.4L283.2,798.6L284.2,794.8L285.2,792.9L286.2,797.2L287.2,800.2L288.2,808.7L289.2,804.4L290.2,805.9L291.2,802.1L292.2,800.2L293.2,802.2L294.2,803.6L295.2,801.9L296.2,782.9L297.2,776.7L298.2,785.1L299.2,792.8L300.2,802.4L301.2,815.1L302.2,807.4L303.2,798.2L304.2,798.4L305.2,796.3L306.2,791.8L307.2,796.8L308.2,793.7L309.2,789.4L310.2,784.6L311.2,784.9L312.2,782.2L313.2,786.5L314.2,789.8L315.2,793.9L316.2,794.9L317.2,790.3L318.2,790.2L319.2,788.1L320.2,785.7L321.2,781.7L322.2,780.8L323.2,778.2L324.2,777.3L325.2,774.7L326.2,770.1L327.2,776.5L328.2,785.0L329.2,793.1L330.2,794.7L331.2,791.1L332.2,788.9L333.2,774.6L334.2,777.6L335.2,767.8L336.2,763.2L337.2,759.6L338.2,763.8L339.2,768.6L340.2,778.1L341.2,772.5L342.2,775.3L343.2,777.4L344.2,775.0L345.2,776.5L346.2,777.9L347.2,779.5L348.2,777.2L349.2,764.7L350.2,771.6L351.2,774.8L352.2,773.4L353.2,781.2L354.2,784.0L355.2,787.7L356.2,792.0L357.2,786.6L358.2,789.9L359.2,790.1L360.2,780.2L361.2,775.0L362.2,770.7L363.2,772.7L364.2,785.1L365.2,794.3L366.2,794.3L367.2,802.1L368.2,805.9L369.2,810.3L370.2,800.7L371.2,797.7L372.2,812.9L373.2,807.8L374.2,791.3L375.2,784.9L376.2,787.0L377.2,789.0L378.2,784.9L379.2,787.0L380.2,785.5L381.2,781.1L382.2,775.8L383.2,778.7L384.2,792.0L385.2,803.0L386.2,799.9L387.2,800.6L388.2,812.3L389.2,806.8L390.2,800.8L391.2,789.2L392.2,788.0L393.2,781.2L394.2,781.1L395.2,789.0L396.2,801.2L397.2,812.8L398.2,812.5L399.2,807.1L400.2,787.8L401.2,771.9L402.2,788.9L403.2,797.4L404.2,799.8L405.2,805.6L406.2,802.8L407.2,796.5L408.2,800.9L409.2,795.6L410.2,804.7L411.2,808.8L412.2,806.3L413.2,812.3L414.2,802.1L415.2,810.0L416.2,811.2L417.2,816.9L418.2,807.6L419.2,796.2L420.2,788.8L421.2,793.0L422.2,800.8L423.2,811.9L424.2,811.4L425.2,809.2L426.2,808.0L427.2,805.7L428.2,801.9L429.2,809.3L430.2,813.7L431.2,814.3L432.2,809.9L433.2,802.0L434.2,796.5L435.2,798.8L436.2,806.7L437.2,817.3L438.2,811.4L439.2,808.7L440.2,806.3L441.2,810.6L442.2,808.1L443.2,817.2L444.2,823.9L445.2,819.1L446.2,815.7L447.2,815.9L448.2,814.3L449.2,812.2L450.2,807.7L451.2,817.4L452.2,817.3L453.2,804.7L454.2,795.4L455.2,788.5L456.2,803.5L457.2,799.5L458.2,799.8L459.2,801.2L460.2,796.9L461.2,797.3L462.2,796.2L463.2,795.7L464.2,788.7L465.2,794.3L466.2,794.8L467.2,798.8L468.2,793.5L469.2,793.4L470.2,790.2L471.2,784.4L472.2,787.9L473.2,796.9L474.2,798.2L475.2,805.4L476.2,796.0L477.2,789.7L478.2,794.2L479.2,798.1L480.2,797.9L481.2,799.2L482.2,793.6L483.2,794.6L484.2,791.3L485.2,783.6L486.2,785.7L487.2,782.0L488.2,782.5L489.2,779.5L490.2,777.8L491.2,780.0L492.2,770.8L493.2,777.8L494.2,779.9L495.2,778.6L496.2,789.0L497.2,787.3L498.2,789.8L499.2,786.5L500.2,784.7L501.2,792.4L502.2,779.6L503.2,775.7L504.2,779.4L505.2,779.5L506.2,783.0L507.2,790.1L508.2,789.8L509.2,798.2L510.2,800.7L511.2,804.1L512.2,802.5L513.2,807.5L514.2,812.8L515.2,800.6L516.2,792.6L517.2,801.9L518.2,814.4L519.2,808.7L520.2,804.7L521.2,792.2L522.2,792.4L523.2,788.6L524.2,788.0L525.2,802.0L526.2,801.8L527.2,798.2L528.2,791.4L529.2,782.2L530.2,776.9L531.2,780.6L532.2,786.6L533.2,790.1L534.2,795.7L535.2,810.3L536.2,803.9L537.2,809.5L538.2,808.5L539.2,814.2L540.2,824.4L541.2,827.9L542.2,818.0L543.2,804.3L544.2,819.1L545.2,807.1L546.2,812.8L547.2,814.8L548.2,815.2L549.2,810.2L550.2,804.5L551.2,799.5L552.2,808.3L553.2,814.8L554.2,814.8L555.2,807.0L556.2,796.2L557.2,795.4L558.2,802.3L559.2,808.3L560.2,816.4L561.2,818.4L562.2,812.0L563.2,801.7L564.2,795.2L565.2,782.7L566.2,791.6L567.2,800.7L568.2,814.5L569.2,822.8L570.2,809.5L571.2,805.7L572.2,808.6L573.2,809.1L574.2,815.9L575.2,802.2L576.2,802.2L577.2,784.6L578.2,786.9L579.2,779.3L580.2,779.1L581.2,783.0L582.2,776.3L583.2,778.6L584.2,790.4L585.2,793.1L586.2,793.6L587.2,789.9L588.2,788.0L589.2,798.0L590.2,804.0L591.2,813.9L592.2,799.3L593.2,801.6L594.2,809.7L595.2,813.1L596.2,805.5L597.2,808.1L598.2,801.2L599.2,801.8L600.2,797.0L601.2,792.6L602.2,794.3L603.2,793.0L604.2,788.1L605.2,786.6L606.2,773.6L607.2,767.4L608.2,763.2L609.2,763.6L610.2,760.6L611.2,758.0L612.2,770.1L613.2,780.5L614.2,783.1L615.2,799.4L616.2,806.3L617.2,804.6L618.2,806.3L619.2,797.3L620.2,797.8L621.2,796.3L622.2,792.9L623.2,792.5L624.2,797.0L625.2,788.0L626.2,785.3L627.2,781.9L628.2,774.1L629.2,780.6L630.2,772.7L631.2,771.9L632.2,772.8L633.2,771.0L634.2,773.2L635.2,772.5L636.2,779.5L637.2,777.3L638.2,781.2L639.2,789.5L640.2,797.0L641.2,790.7L642.2,783.7L643.2,783.3L644.2,785.4L645.2,794.9L646.2,786.9L647.2,791.2L648.2,788.6L649.2,782.3L650.2,782.5L651.2,786.6L652.2,791.2L653.2,791.1L654.2,789.6L655.2,786.3L656.2,795.5L657.2,804.8L658.2,804.5L659.2,804.5L660.2,799.9L661.2,803.2L662.2,810.4L663.2,814.2L664.2,819.1L665.2,821.2L666.2,821.8L667.2,810.7L668.2,820.2L669.2,821.2L670.2,827.6L671.2,828.7L672.2,832.4L673.2,826.3L674.2,823.1L675.2,820.9L676.2,822.7L677.2,819.1L678.2,811.8L679.2,810.7L680.2,809.2L681.2,805.7L682.2,810.8L683.2,811.8L684.2,810.8L685.2,805.8L686.2,795.0L687.2,791.1L688.2,794.6L689.2,798.1L690.2,800.9L691.2,800.5L692.2,800.4L693.2,800.8L694.2,795.8L695.2,796.5L696.2,791.1L697.2,792.3L698.2,796.4L699.2,798.1L700.2,799.9L701.2,798.5L702.2,798.4L703.2,805.3L704.2,799.9L705.2,801.7L706.2,797.9L707.2,802.2L708.2,797.9L709.2,789.5L710.2,787.3L711.2,778.5L712.2,780.2L713.2,783.1L714.2,781.5L715.2,780.2L716.2,772.0L717.2,770.2L718.2,762.6L719.2,765.1L720.2,767.6L721.2,780.3L722.2,782.3L723.2,782.6L724.2,789.1L725.2,799.7L726.2,792.0L727.2,788.4L728.2,786.2L729.2,784.4L730.2,787.4L731.2,789.6L732.2,789.7L733.2,789.3L734.2,780.3L735.2,780.2L736.2,793.3L737.2,791.1L738.2,802.5L739.2,813.1L740.2,816.9L741.2,814.3L742.2,799.7L743.2,796.7L744.2,799.2L745.2,786.9L746.2,793.6L747.2,784.7L748.2,785.6L749.2,790.7L750.2,795.3L751.2,794.7L752.2,800.0L753.2,801.3L754.2,805.6L755.2,800.3L756.2,792.9L757.2,793.7L758.2,789.1L759.2,782.7L760.2,778.9L761.2,781.8L762.2,779.6L763.2,772.3L764.2,789.8L765.2,791.1L766.2,787.7L767.2,786.7L768.2,785.7L769.2,787.5L770.2,781.8L771.2,780.1L772.2,775.8L773.2,773.8L774.2,773.2L775.2,774.6L776.2,775.4L777.2,785.6L778.2,789.5L779.2,787.4L780.2,792.0L781.2,791.1L782.2,791.9L783.2,795.6L784.2,789.5L785.2,792.5L786.2,798.1L787.2,797.4L788.2,789.4L789.2,794.3L790.2,790.2L791.2,801.4L792.2,807.6L793.2,803.9L794.2,794.5L795.2,791.5L796.2,788.9L797.2,787.6L798.2,790.6L799.2,783.6L800.2,785.0L801.2,789.7L802.2,791.4L803.2,791.2L804.2,793.4L805.2,791.3L806.2,793.7L807.2,790.7L808.2,787.2L809.2,790.2L810.2,791.4L811.2,795.1L812.2,796.3L813.2,802.2L814.2,799.9L815.2,806.9L816.2,802.1L817.2,800.8L818.2,805.1L819.2,806.1L820.2,806.8L821.2,799.3L822.2,802.2L823.2,800.4L824.2,793.7L825.2,791.3L826.2,787.9L827.2,781.6L828.2,783.2L829.2,783.0L830.2,786.1L831.2,784.8L832.2,786.4L833.2,785.7L834.2,788.0L835.2,790.1L836.2,789.4L837.2,777.0L838.2,770.0L839.2,768.3L840.2,772.2L841.2,774.3L842.2,770.8L843.2,776.2L844.2,781.3L845.2,788.0L846.2,786.0L847.2,783.6L848.2,793.7L849.2,794.4L850.2,794.4L851.2,797.5L852.2,797.1L853.2,791.8L854.2,794.7L855.2,795.4L856.2,796.1L857.2,782.8L858.2,791.8L859.2,783.4L860.2,788.6L861.2,788.8L862.2,793.9L863.2,790.3L864.2,786.5L865.2,792.9L866.2,791.9L867.2,797.0L868.2,787.9L869.2,791.2L870.2,791.3L871.2,786.3L872.2,796.0L873.2,802.8L874.2,808.2L875.2,813.7L876.2,814.2L877.2,814.0L878.2,812.0L879.2,809.5L880.2,802.6L881.2,807.4L882.2,800.9L883.2,799.7L884.2,808.1L885.2,806.3L886.2,803.3L887.2,803.0L888.2,801.3L889.2,795.0L890.2,788.4L891.2,784.8L892.2,797.6L893.2,796.6L894.2,823.4L895.2,821.1L896.2,812.0L897.2,809.4L898.2,797.3L899.2,795.8L900.2,791.6L901.2,793.1L902.2,803.9L903.2,808.0L904.2,802.6L905.2,792.5L906.2,792.7L907.2,803.6L908.2,807.4L909.2,810.7L910.2,808.6L911.2,805.5L912.2,796.1L913.2,795.0L914.2,792.1L915.2,790.4L916.2,794.6L917.2,798.8L918.2,803.0L919.2,802.5L920.2,803.0L921.2,798.6L922.2,792.0L923.2,790.5L924.2,783.4L925.2,780.2L926.2,771.3L927.2,760.2L928.2,760.0L929.2,765.2L930.2,764.5L931.2,753.1L932.2,758.9L933.2,763.8L934.2,775.0L935.2,782.3L936.2,788.1L937.2,788.6L938.2,792.7L939.2,783.8L940.2,780.2L941.2,779.0L942.2,790.9L943.2,790.2L944.2,796.4L945.2,798.5L946.2,802.9L947.2,802.6L948.2,801.5L949.2,804.1L950.2,799.6L951.2,801.4L952.2,801.1L953.2,793.9L954.2,804.7L955.2,794.8L956.2,792.3L957.2,794.3L958.2,788.0L959.2,789.7L960.2,796.4L961.2,791.8L962.2,796.0L963.2,791.7L964.2,796.3L965.2,797.6L966.2,795.7L967.2,797.6L968.2,799.7L969.2,800.9L970.2,798.7L971.2,800.4L972.2,808.9L973.2,799.2L974.2,803.3L975.2,802.6L976.2,807.3L977.2,804.7L978.2,803.9L979.2,808.4L980.2,811.2L981.2,807.7L982.2,806.0L983.2,804.4L984.2,797.2L985.2,796.5L986.2,790.5L987.2,783.9L988.2,774.0L989.2,768.8L990.2,772.4L991.2,776.6L992.2,789.2L993.2,788.7L994.2,798.2L995.2,803.0L996.2,804.3L997.2,802.0L998.2,799.6L999.2,803.4L1000.2,803.7L1001.2,801.9L1002.2,796.6L1003.2,795.0L1004.2,793.2L1005.2,794.1L1006.2,796.2L1007.2,804.2L1008.2,797.0L1009.2,790.3L1010.2,784.9L1011.2,781.3L1012.2,794.1L1013.2,801.9L1014.2,806.0L1015.2,797.3L1016.2,795.0L1017.2,794.0L1018.2,793.4L1019.2,790.9L1020.2,792.8L1021.2,791.7L1022.2,790.2L1023.2,789.6L1024.2,788.8L1025.2,794.6L1026.2,795.3L1027.2,793.4L1028.2,785.3L1029.2,782.1L1030.2,775.1L1031.2,771.6L1032.2,777.9L1033.2,771.5L1034.2,768.3L1035.2,778.2L1036.2,786.1L1037.2,787.5L1038.2,796.9L1039.2,796.8L1040.2,794.3L1041.2,790.9L1042.2,786.2L1043.2,787.2L1044.2,787.5L1045.2,789.1L1046.2,775.8L1047.2,784.9L1048.2,785.6L1049.2,787.0L1050.2,785.1L1051.2,785.3L1052.2,790.0L1053.2,788.0L1054.2,785.4L1055.2,784.4L1056.2,780.1L1057.2,794.9L1058.2,789.5L1059.2,793.1L1060.2,787.6L1061.2,784.0L1062.2,785.3L1063.2,781.6L1064.2,785.7L1065.2,784.6L1066.2,787.0L1067.2,788.4L1068.2,783.2L1069.2,784.8L1070.2,781.6L1071.2,784.7L1072.2,789.1L1073.2,786.8L1074.2,794.5L1075.2,789.9L1076.2,779.2L1077.2,774.1L1078.2,778.7L1079.2,769.7L1080.2,773.2L1081.2,769.7L1082.2,764.8L1083.2,762.8L1084.2,755.2L1085.2,761.4L1086.2,766.4L1087.2,765.1L1088.2,759.1L1089.2,755.0L1090.2,757.9L1091.2,765.0L1092.2,774.8L1093.2,777.4L1094.2,778.0L1095.2,777.1L1096.2,777.3L1097.2,778.9L1098.2,780.5L1099.2,777.5L1100.2,779.0L1101.2,777.4L1102.2,779.3L1103.2,770.0L1104.2,770.2L1105.2,772.3L1106.2,770.7L1107.2,775.2L1108.2,779.7L1109.2,770.1L1110.2,769.2L1111.2,768.9L1112.2,776.2L1113.2,786.4L1114.2,780.4L1115.2,774.0L1116.2,770.3L1117.2,778.4L1118.2,786.9L1119.2,790.8L1120.2,798.0L1121.2,807.0L1122.2,796.1L1123.2,798.6L1124.2,787.8L1125.2,784.0L1126.2,790.9L1127.2,792.1L1128.2,795.3L1129.2,796.6L1130.2,794.9L1131.2,786.6L1132.2,791.8L1133.2,792.4L1134.2,793.4L1135.2,787.0L1136.2,787.8L1137.2,786.6L1138.2,779.8L1139.2,783.1L1140.2,787.4L1141.2,791.4L1142.2,778.0L1143.2,775.9L1144.2,775.8L1145.2,780.6L1146.2,783.5L1147.2,790.9L1148.2,789.2L1149.2,785.6L1150.2,785.2L1151.2,785.4L1152.2,787.2L1153.2,790.9L1154.2,792.2L1155.2,790.5L1156.2,791.0L1157.2,792.3L1158.2,787.5L1159.2,776.8L1160.2,773.6L1161.2,759.8L1162.2,760.4L1163.2,764.1L1164.2,769.1L1165.2,775.1L1166.2,783.3L1167.2,789.7L1168.2,792.7L1169.2,796.1L1170.2,801.1L1171.2,795.8L1172.2,791.0L1173.2,785.3L1174.2,786.0L1175.2,780.0L1176.2,774.0L1177.2,777.9L1178.2,781.8L1179.2,784.3L1180.2,786.9L1181.2,786.2L1182.2,786.3L1183.2,777.7L1184.2,779.3L1185.2,781.2L1186.2,787.2L1187.2,789.0L1188.2,790.9L1189.2,794.3L1190.2,794.1L1191.2,788.1L1192.2,785.6L1193.2,787.1L1194.2,782.4L1195.2,781.6L1196.2,783.3L1197.2,777.4L1198.2,777.1L1199.2,779.0L1200.2,772.6L1201.2,780.4L1202.2,774.7L1203.2,772.1L1204.2,770.2L1205.2,766.8L1206.2,768.9L1207.2,777.5L1208.2,781.9L1209.2,790.4L1210.2,786.0L1211.2,787.1L1212.2,784.7L1213.2,786.5L1214.2,788.8L1215.2,794.4L1216.2,784.2L1217.2,771.7L1218.2,767.3L1219.2,759.8L1220.2,755.2L1221.2,746.3L1222.2,747.7L1223.2,752.8L1224.2,760.9L1225.2,754.2L1226.2,764.2L1227.2,765.8L1228.2,760.1L1229.2,768.1L1230.2,761.3L1231.2,756.8L1232.2,758.4L1233.2,748.9L1234.2,751.2L1235.2,765.1L1236.2,764.8L1237.2,774.6L1238.2,771.0L1239.2,772.6L1240.2,768.8L1241.2,776.2L1242.2,781.6L1243.2,782.4L1244.2,782.4L1245.2,772.1L1246.2,765.8L1247.2,766.8L1248.2,773.3L1249.2,778.6L1250.2,769.2L1251.2,769.3L1252.2,770.2L1253.2,780.6L1254.2,785.8L1255.2,794.2L1256.2,799.2L1257.2,797.1L1258.2,787.9L1259.2,788.0L1260.2,794.1L1261.2,800.1L1262.2,808.3L1263.2,809.6L1264.2,809.5L1265.2,801.3L1266.2,801.2L1267.2,797.3L1268.2,798.4L1269.2,803.3L1270.2,811.2L1271.2,798.6L1272.2,797.3L1273.2,797.7L1274.2,792.6L1275.2,794.7L1276.2,797.8L1277.2,793.6L1278.2,781.1L1279.2,772.9L1280.2,770.1L1281.2,764.1L1282.2,767.0L1283.2,768.2L1284.2,772.3L1285.2,763.0L1286.2,762.2L1287.2,757.3L1288.2,753.5L1289.2,746.8L1290.2,748.9L1291.2,761.3L1292.2,755.8L1293.2,759.7L1294.2,766.5L1295.2,764.2L1296.2,765.6L1297.2,767.5L1298.2,767.1L1299.2,769.8L1300.2,781.1L1301.2,781.9L1302.2,780.6L1303.2,785.3L1304.2,788.2L1305.2,788.0L1306.2,785.9L1307.2,783.4L1308.2,789.9L1309.2,789.0L1310.2,795.7L1311.2,795.0L1312.2,805.8L1313.2,807.2L1314.2,807.2L1315.2,806.2L1316.2,806.2L1317.2,806.0L1318.2,805.0L1319.2,805.5L1320.2,800.4L1321.2,803.4L1322.2,806.7L1323.2,806.5L1324.2,812.8L1325.2,805.6L1326.2,803.2L1327.2,806.1L1328.2,800.3L1329.2,798.3L1330.2,796.7L1331.2,797.6L1332.2,792.2L1333.2,795.9L1334.2,792.3L1335.2,790.3L1336.2,789.2L1337.2,798.0L1338.2,796.7L1339.2,793.2L1340.2,792.6L1341.2,798.3L1342.2,783.6L1343.2,784.5L1344.2,788.4L1345.2,788.2L1346.2,778.7L1347.2,784.4L1348.2,784.8L1349.2,790.0L1350.2,792.4L1351.2,794.6L1352.2,794.3L1353.2,796.2L1354.2,793.7L1355.2,797.0L1356.2,791.4L1357.2,785.3L1358.2,790.8L1359.2,795.1L1360.2,796.0L1361.2,791.6L1362.2,803.3L1363.2,806.5L1364.2,807.9L1365.2,802.8L1366.2,799.0L1367.2,796.6L1368.2,800.5L1369.2,802.3L1370.2,811.8L1371.2,808.6L1372.2,805.8L1373.2,802.7L1374.2,803.5L1375.2,805.5L1376.2,801.6L1377.2,797.9L1378.2,800.7L1379.2,798.7L1380.2,799.0L1381.2,796.5L1382.2,798.8L1383.2,808.0L1384.2,806.7L1385.2,803.3L1386.2,804.4L1387.2,805.1L1388.2,801.1L1389.2,805.9L1390.2,804.6L1391.2,800.5L1392.2,803.8L1393.2,801.2L1394.2,800.6L1395.2,804.3L1396.2,805.9L1397.2,810.9L1398.2,820.3L1399.2,822.7L1400.2,821.3L1401.2,818.0L1402.2,808.6L1403.2,811.3L1404.2,809.8L1405.2,813.0L1406.2,822.1L1407.2,808.0L1408.2,806.4L1409.2,804.7L1410.2,808.7L1411.2,816.0L1412.2,826.3L1413.2,818.9L1414.2,811.0L1415.2,805.2L1416.2,794.3L1417.2,803.9L1418.2,812.6L1419.2,815.7L1420.2,814.3L1421.2,802.2L1422.2,800.9L1423.2,806.4L1424.2,809.4L1425.2,811.4L1426.2,815.8L1427.2,807.0L1428.2,800.3L1429.2,790.8L1430.2,794.8L1431.2,795.5L1432.2,810.4L1433.2,798.9L1434.2,814.4L1435.2,817.6L1436.2,817.3L1437.2,819.9L1438.2,816.7L1439.2,813.2L1440.2,812.5L1441.2,812.7L1442.2,813.7L1443.2,811.8L1444.2,818.7L1445.2,815.4L1446.2,816.2L1447.2,827.9L1448.2,817.7L1449.2,817.1L1450.2,818.1L1451.2,821.9L1452.2,822.0L1453.2,816.4L1454.2,820.0L1455.2,817.8L1456.2,816.3L1457.2,812.3L1458.2,814.5L1459.2,812.7L1460.2,811.2L1461.2,804.2L1462.2,797.8L1463.2,794.1L1464.2,801.9L1465.2,802.9L1466.2,810.8L1467.2,808.3L1468.2,804.7L1469.2,796.7L1470.2,795.0L1471.2,796.7L1472.2,796.8L1473.2,795.4L1474.2,800.4L1475.2,803.1L1476.2,797.9L1477.2,789.5L1478.2,779.0L1479.2,770.0L1480.2,758.0L1481.2,764.3L1482.2,764.6L1483.2,772.4L1484.2,772.2L1485.2,768.2L1486.2,768.8L1487.2,760.6L1488.2,758.3L1489.2,757.9L1490.2,754.6L1491.2,759.2L1492.2,776.8L1493.2,785.0L1494.2,788.2L1495.2,782.4L1496.2,778.8L1497.2,769.6L1498.2,767.7L1499.2,764.4L1500.2,760.7L1501.2,761.4L1502.2,757.5L1503.2,762.3L1504.2,768.5L1505.2,760.8L1506.2,753.4L1507.2,749.9L1508.2,753.2L1509.2,758.5L1510.2,764.4L1511.2,758.9L1512.2,757.8L1513.2,756.8L1514.2,758.3L1515.2,756.1L1516.2,757.7L1517.2,749.7L1518.2,747.6L1519.2,753.5L1520.2,747.6L1521.2,754.9L1522.2,757.2L1523.2,753.4L1524.2,750.9L1525.2,752.4L1526.2,748.4L1527.2,764.1L1528.2,757.9L1529.2,760.6L1530.2,759.7L1531.2,751.9L1532.2,759.4L1533.2,748.8L1534.2,743.7L1535.2,748.3L1536.2,755.0L1537.2,761.8L1538.2,760.9L1539.2,764.8L1540.2,766.7L1541.2,762.8L1542.2,759.0L1543.2,752.5L1544.2,749.9L1545.2,751.8L1546.2,750.9L1547.2,748.3L1548.2,766.6L1549.2,765.6L1550.2,778.0L1551.2,782.7L1552.2,782.8L1553.2,785.1L1554.2,775.7L1555.2,778.8L1556.2,773.5L1557.2,767.5L1558.2,762.2L1559.2,754.1L1560.2,756.0L1561.2,757.6L1562.2,762.0L1563.2,763.2L1564.2,764.9L1565.2,756.2L1566.2,752.8L1567.2,748.2L1568.2,754.3L1569.2,758.4L1570.2,762.2L1571.2,766.2L1572.2,755.6L1573.2,764.9L1574.2,762.0L1575.2,771.9L1576.2,776.4L1577.2,772.5L1578.2,772.1L1579.2,768.7L1580.2,766.3L1581.2,768.9L1582.2,767.5L1583.2,775.7L1584.2,767.0L1585.2,773.3L1586.2,759.9L1587.2,765.5L1588.2,758.8L1589.2,757.2L1590.2,763.7L1591.2,767.0L1592.2,762.9L1593.2,761.9L1594.2,765.7L1595.2,763.6L1596.2,774.3L1597.2,778.4L1598.2,773.9L1599.2,774.9L1600.2,767.8L1601.2,771.4L1602.2,777.5L1603.2,783.1L1604.2,779.5L1605.2,775.5L1606.2,780.9L1607.2,772.5L1608.2,770.3L1609.2,774.8L1610.2,789.7L1611.2,799.7L1612.2,794.8L1613.2,786.8L1614.2,776.1L1615.2,775.9L1616.2,781.8L1617.2,782.6L1618.2,785.3L1619.2,780.6L1620.2,786.6L1621.2,783.7L1622.2,781.9L1623.2,786.4L1624.2,792.6L1625.2,795.2L1626.2,788.9L1627.2,783.8L1628.2,780.0L1629.2,786.7L1630.2,791.4L1631.2,798.1L1632.2,787.2L1633.2,780.2L1634.2,775.7L1635.2,767.0L1636.2,758.7L1637.2,760.2L1638.2,762.3L1639.2,761.9L1640.2,762.7L1641.2,760.3L1642.2,762.9L1643.2,770.5L1644.2,770.6L1645.2,763.7L1646.2,774.4L1647.2,774.5L1648.2,777.0L1649.2,774.8L1650.2,784.3L1651.2,781.3L1652.2,783.4L1653.2,784.4L1654.2,784.1L1655.2,784.6L1656.2,789.1L1657.2,778.2L1658.2,790.1L1659.2,797.9L1660.2,790.9L1661.2,780.3L1662.2,780.5L1663.2,781.4L1664.2,782.4L1665.2,779.9L1666.2,782.5L1667.2,783.0L1668.2,779.4L1669.2,778.1L1670.2,772.0L1671.2,765.6L1672.2,776.9L1673.2,775.4L1674.2,778.1L1675.2,772.6L1676.2,773.0L1677.2,777.9L1678.2,781.0L1679.2,786.1L1680.2,785.1L1681.2,791.6L1682.2,784.7L1683.2,786.4L1684.2,791.8L1685.2,786.4L1686.2,773.0L1687.2,775.5L1688.2,770.7L1688.2,875.0 Z"/>

<!-- Platts logo -->
<g>
<circle cx="154.7" cy="121.75" r="46.2" fill="url(#gTop)"/>
<path d="M141.8,100.1 C136,97 129,94.2 123.3,93.8 C117,94 112.5,101 110.5,109 A46.2,46.2 0 0 0 158.3,167.8 C149,166.5 142.5,158 141.8,142.9 Z" fill="url(#gLeft)"/>
<path d="M141.8,142.9 L179.2,121.5 Q190,112.5 195.7,99.6 A46.2,46.2 0 0 1 158.3,167.8 C149,166.5 142.5,158 141.8,142.9 Z" fill="url(#gRed)"/>
<path d="M141.8,100.1 L179.2,121.5 L141.8,142.9 Z" fill="#e5e6e8"/>
</g>

<!-- title -->

<!-- natural gas -->
<g fill="none" stroke="#e8488f" stroke-width="2.6" stroke-linejoin="miter" stroke-miterlimit="10">
<circle cx="1740" cy="132.2" r="46.4"/>
<path d="M1740.2,100.6 L1720.4,140.2 C1717.8,145.4 1716.4,150 1716.4,154.5 C1716.4,168 1727,178.6 1740.2,178.6 C1753.4,178.6 1764,168 1764,154.5 C1764,150 1762.6,145.4 1760,140.2 Z"/>
<path d="M1740.2,133.4 L1730,152.6 C1727.8,156.8 1726.6,160.6 1726.6,164.6 C1726.6,172.4 1732.6,178.6 1740.2,178.6 C1747.8,178.6 1753.8,172.4 1753.8,164.6 C1753.8,160.6 1752.6,156.8 1750.4,152.6 Z"/>
</g>

<!-- axis text -->
<text x="220.32" y="124.20" font-size="54.51" font-weight="bold" fill="#e31b38" stroke="#e31b38" stroke-width="2.60" textLength="185.84" lengthAdjust="spacingAndGlyphs">PLATTS</text>
<text x="221.23" y="166.65" font-size="27.04" font-weight="bold" fill="#414245" stroke="#414245" stroke-width="0.90" textLength="112.36" lengthAdjust="spacingAndGlyphs">McGRAW</text>
<text x="346.49" y="166.65" font-size="27.04" font-weight="bold" fill="#414245" stroke="#414245" stroke-width="0.90" textLength="51.80" lengthAdjust="spacingAndGlyphs">HILL</text>
<text x="409.32" y="166.65" font-size="27.04" font-weight="bold" fill="#414245" stroke="#414245" stroke-width="0.90" textLength="134.69" lengthAdjust="spacingAndGlyphs">FINANCIAL</text>
<text x="106.20" y="274.80" font-size="79.51" font-weight="bold" fill="#000" stroke="#000" stroke-width="2.40" textLength="222.60" lengthAdjust="spacingAndGlyphs">SOCAL</text>
<text x="345.16" y="274.80" font-size="79.51" font-weight="bold" fill="#000" stroke="#000" stroke-width="2.40" textLength="320.97" lengthAdjust="spacingAndGlyphs">NATURAL</text>
<text x="682.61" y="274.80" font-size="79.51" font-weight="bold" fill="#000" stroke="#000" stroke-width="2.40" textLength="137.30" lengthAdjust="spacingAndGlyphs">GAS</text>
<text x="837.08" y="274.80" font-size="79.51" font-weight="bold" fill="#000" stroke="#000" stroke-width="2.40" textLength="327.72" lengthAdjust="spacingAndGlyphs">RECEIPTS</text>
<text x="1415.47" y="146.60" font-size="42.59" font-weight="bold" fill="#e8488f" textLength="175.20" lengthAdjust="spacingAndGlyphs">NATURAL</text>
<text x="1602.39" y="146.60" font-size="42.59" font-weight="bold" fill="#e8488f" textLength="75.05" lengthAdjust="spacingAndGlyphs">GAS</text>
<text x="251.59" y="367.50" font-size="47.68" fill="#636975" textLength="106.63" lengthAdjust="spacingAndGlyphs">(’000</text>
<text x="370.31" y="367.50" font-size="47.68" fill="#636975" textLength="160.16" lengthAdjust="spacingAndGlyphs">MMcf/d)</text>
<text x="693.26" y="367.75" font-size="48.47" fill="#636975" textLength="171.57" lengthAdjust="spacingAndGlyphs">Southern</text>
<text x="872.23" y="367.75" font-size="48.47" fill="#636975" textLength="91.68" lengthAdjust="spacingAndGlyphs">zone</text>
<text x="1064.26" y="367.75" font-size="48.47" fill="#636975" textLength="166.10" lengthAdjust="spacingAndGlyphs">Northern</text>
<text x="1237.53" y="367.75" font-size="48.47" fill="#636975" textLength="91.68" lengthAdjust="spacingAndGlyphs">zone</text>
<text x="1435.00" y="367.75" font-size="48.47" fill="#636975" textLength="149.12" lengthAdjust="spacingAndGlyphs">Wheeler</text>
<text x="1594.11" y="367.75" font-size="48.47" fill="#636975" textLength="105.01" lengthAdjust="spacingAndGlyphs">Ridge</text>
<text x="202.89" y="404.80" font-size="47.53" fill="#636975" textLength="22.67" lengthAdjust="spacingAndGlyphs">4</text>
<text x="203.01" y="527.20" font-size="47.53" fill="#636975" textLength="23.45" lengthAdjust="spacingAndGlyphs">3</text>
<text x="202.17" y="648.30" font-size="47.53" fill="#636975" textLength="24.24" lengthAdjust="spacingAndGlyphs">2</text>
<text x="202.83" y="892.40" font-size="47.53" fill="#636975" textLength="24.39" lengthAdjust="spacingAndGlyphs">0</text>
<text x="103.22" y="1016.00" font-size="47.68" fill="#636975" textLength="154.37" lengthAdjust="spacingAndGlyphs">Source:</text>
<text x="267.03" y="1016.00" font-size="47.68" fill="#636975" textLength="113.86" lengthAdjust="spacingAndGlyphs">Platts</text>
<text x="394.47" y="1016.00" font-size="47.68" fill="#636975" textLength="139.97" lengthAdjust="spacingAndGlyphs">Bentek</text>
<text x="179.80" y="934.60" font-size="47.38" fill="#636975" textLength="90.04" lengthAdjust="spacingAndGlyphs">Jan-</text>
<text x="298.20" y="934.60" font-size="47.38" fill="#636975" textLength="25.03" lengthAdjust="spacingAndGlyphs">2</text>
<text x="536.00" y="934.60" font-size="47.38" fill="#636975" textLength="90.04" lengthAdjust="spacingAndGlyphs">Jan-</text>
<text x="655.11" y="934.60" font-size="47.38" fill="#636975" textLength="23.38" lengthAdjust="spacingAndGlyphs">3</text>
<text x="891.80" y="934.60" font-size="47.38" fill="#636975" textLength="90.04" lengthAdjust="spacingAndGlyphs">Jan-</text>
<text x="1010.86" y="934.60" font-size="47.38" fill="#636975" textLength="23.55" lengthAdjust="spacingAndGlyphs">4</text>
<text x="1247.50" y="934.60" font-size="47.38" fill="#636975" textLength="90.04" lengthAdjust="spacingAndGlyphs">Jan-</text>
<text x="1367.03" y="934.60" font-size="47.38" fill="#636975" textLength="23.05" lengthAdjust="spacingAndGlyphs">5</text>
<text x="1602.80" y="934.60" font-size="47.38" fill="#636975" textLength="90.04" lengthAdjust="spacingAndGlyphs">Jan-</text>
<text x="1721.34" y="934.60" font-size="47.38" fill="#636975" textLength="24.51" lengthAdjust="spacingAndGlyphs">6</text>
<path fill="#636975" d="M207.30,738.10 H217.70 V770.00 H214.00 V741.10 H207.30 Z"/>
<path fill="#636975" d="M276.60,902.40 H286.30 V934.50 H282.80 V905.40 H276.60 Z"/>
<path fill="#636975" d="M632.80,902.40 H642.50 V934.50 H639.00 V905.40 H632.80 Z"/>
<path fill="#636975" d="M988.60,902.40 H998.30 V934.50 H994.80 V905.40 H988.60 Z"/>
<path fill="#636975" d="M1344.30,902.40 H1354.00 V934.50 H1350.50 V905.40 H1344.30 Z"/>
<path fill="#636975" d="M1699.60,902.40 H1709.30 V934.50 H1705.80 V905.40 H1699.60 Z"/>
<!-- legend swatches -->
<rect x="627.2" y="339.3" width="53.6" height="28.4" fill="#6b035f"/>
<rect x="997.5" y="339.3" width="53.5" height="28.4" fill="#e84a96"/>
<rect x="1368" y="339.3" width="53.5" height="28.4" fill="#c9a9c5"/>
<rect x="0" y="0" width="1920" height="1" fill="#f7f8f8"/><rect x="0" y="1" width="1920" height="1" fill="#dfe0e1"/><rect x="0" y="1080" width="1920" height="1" fill="#e9eaeb"/>
</svg>
</body></html>
